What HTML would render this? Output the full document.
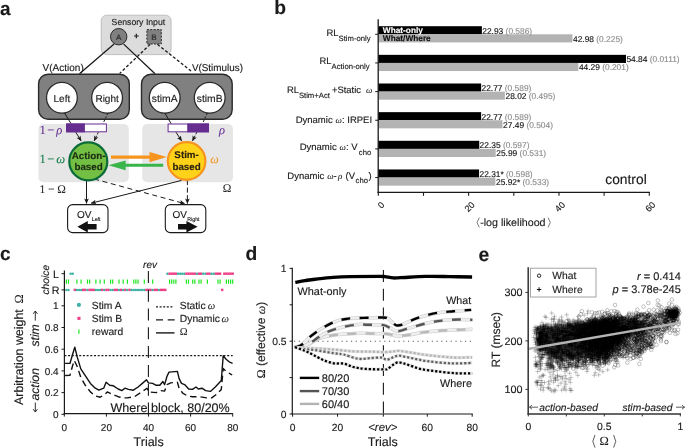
<!DOCTYPE html>
<html><head><meta charset="utf-8"><title>figure</title>
<style>html,body{margin:0;padding:0;background:#fff;}body{width:685px;height:448px;overflow:hidden;font-family:"Liberation Sans",sans-serif;}svg{display:block;will-change:transform;}text{font-family:"Liberation Sans",sans-serif;text-rendering:geometricPrecision;stroke-width:0.14px;}.se{font-family:"Liberation Serif",serif;}</style>
</head><body>
<svg width="685" height="448" viewBox="0 0 685 448">
<rect x="0" y="0" width="685" height="448" fill="#fff"/>
<defs>
<marker id="ah" viewBox="0 0 10 10" refX="9" refY="5" markerWidth="5.5" markerHeight="5.5" orient="auto" markerUnits="userSpaceOnUse"><path d="M0,0.8 L10,5 L0,9.2 L2.5,5 Z" fill="#1a1a1a"/></marker>
</defs>
<g id="pa">
<text x="0.0" y="14.6" font-size="19" font-weight="bold" stroke-width="0.05" fill="#1a1a1a" stroke="#1a1a1a">a</text>
<rect x="101.2" y="15.2" width="69.9" height="39.4" rx="5.5" fill="#dcdcdc" stroke="#b4b4b4" stroke-width="0.8"/>
<text x="138.4" y="24.9" font-size="8.7" text-anchor="middle" fill="#1a1a1a" stroke="#1a1a1a">Sensory Input</text>
<g stroke="#1a1a1a" stroke-width="1.3" fill="none">
<path d="M114.1,44.1 L79.5,73.8"/>
<path d="M123.7,44.1 L155,73.8"/>
<path d="M150.2,44.3 L119.7,73.4" stroke-dasharray="3,2"/>
<path d="M157.4,44.3 L192.6,72.2" stroke-dasharray="3,2"/>
</g>
<circle cx="118.7" cy="36.7" r="8.2" fill="#808080" stroke="#2a2a2a" stroke-width="1"/>
<text x="118.7" y="39.6" font-size="8" text-anchor="middle" fill="#2a2a2a" stroke="#2a2a2a">A</text>
<text x="136.3" y="38.6" font-size="9" text-anchor="middle" font-weight="bold" stroke-width="0.05" fill="#1a1a1a" stroke="#1a1a1a">+</text>
<rect x="146.9" y="29.6" width="14.4" height="14.4" fill="#808080" stroke="#2a2a2a" stroke-width="1" stroke-dasharray="2,1.4"/>
<text x="154" y="39.7" font-size="8" text-anchor="middle" fill="#2a2a2a" stroke="#2a2a2a">B</text>
<text x="42.6" y="70.9" font-size="10" fill="#1a1a1a" stroke="#1a1a1a">V(Action)</text>
<text x="191.9" y="70.9" font-size="9.9" fill="#1a1a1a" stroke="#1a1a1a">V(Stimulus)</text>
<rect x="38.6" y="74.2" width="90.7" height="45" rx="9.5" fill="#808080" stroke="#2a2a2a" stroke-width="1.4"/>
<rect x="141.5" y="74.2" width="90.7" height="45" rx="9.5" fill="#808080" stroke="#2a2a2a" stroke-width="1.4"/>
<circle cx="61.9" cy="97.7" r="15.4" fill="#fff" stroke="#2a2a2a" stroke-width="1.3"/>
<text x="61.9" y="102.4" font-size="10" text-anchor="middle" fill="#1a1a1a" stroke="#1a1a1a">Left</text>
<circle cx="107.1" cy="97.7" r="15.4" fill="#fff" stroke="#2a2a2a" stroke-width="1.3"/>
<text x="107.1" y="102.4" font-size="10" text-anchor="middle" fill="#1a1a1a" stroke="#1a1a1a">Right</text>
<circle cx="164.7" cy="97.7" r="15.4" fill="#fff" stroke="#2a2a2a" stroke-width="1.3"/>
<text x="164.7" y="102.4" font-size="10.3" text-anchor="middle" fill="#1a1a1a" stroke="#1a1a1a">stimA</text>
<circle cx="209.7" cy="97.7" r="15.4" fill="#fff" stroke="#2a2a2a" stroke-width="1.3"/>
<text x="209.7" y="102.4" font-size="10.3" text-anchor="middle" fill="#1a1a1a" stroke="#1a1a1a">stimB</text>
<rect x="38.4" y="124.1" width="90.4" height="58.1" rx="5" fill="#e6e6e6"/>
<rect x="142.2" y="124.1" width="90.8" height="58.1" rx="5" fill="#e6e6e6"/>
<g stroke="#1a1a1a" stroke-width="1" fill="none">
<path d="M64.5,113 L71,123.6"/>
<path d="M107.9,113 L103,123.6" stroke-dasharray="2.2,1.6"/>
<path d="M164.8,113 L171.1,123.6"/>
<path d="M207.3,113 L202.5,123.6" stroke-dasharray="2.2,1.6"/>
</g>
<rect x="66.6" y="124" width="39.8" height="7.8" fill="#fff" stroke="#662d91" stroke-width="1"/>
<rect x="66.1" y="123.5" width="18.8" height="8.8" fill="#662d91"/>
<rect x="168.1" y="124" width="40.4" height="7.8" fill="#fff" stroke="#662d91" stroke-width="1"/>
<rect x="187.2" y="123.5" width="21.8" height="8.8" fill="#662d91"/>
<g stroke="#1a1a1a" stroke-width="1" fill="none">
<path d="M75.8,132.3 L81.1,140.8" marker-end="url(#ah)"/>
<path d="M98.3,132.3 L94.2,140.8" stroke-dasharray="2.2,1.6" marker-end="url(#ah)"/>
<path d="M176,132.3 L181.6,140.8" marker-end="url(#ah)"/>
<path d="M196.8,132.3 L192.5,140.8" stroke-dasharray="2.2,1.6" marker-end="url(#ah)"/>
</g>
<g stroke="#1a1a1a" stroke-width="1" fill="none">
<path d="M86.5,180 L86.5,203.4" marker-end="url(#ah)"/>
<path d="M187.4,180 L187.4,203.4" stroke-dasharray="5,2.6" marker-end="url(#ah)"/>
<path d="M181.6,180.4 L91.2,203.2" marker-end="url(#ah)"/>
<path d="M94.2,179 L184.6,203.6" stroke-dasharray="5,3.6" marker-end="url(#ah)"/>
</g>
<path d="M111,157.1 L152,157.1" stroke="#f7941d" stroke-width="3.2" fill="none"/>
<path d="M149.5,151.9 L166.8,157.1 L149.5,162.3 Z" fill="#f7941d"/>
<path d="M163.2,165.3 L123,165.3" stroke="#39b54a" stroke-width="3" fill="none"/>
<path d="M125.6,160.4 L108.4,165.3 L125.6,170.2 Z" fill="#39b54a"/>
<circle cx="88.3" cy="161.4" r="19" fill="#72bf44" stroke="#0b6b38" stroke-width="2.2"/>
<text x="88.6" y="159" font-size="9.8" text-anchor="middle" font-weight="bold" stroke-width="0.05" fill="#1c2a12" stroke="#1c2a12">Action-</text>
<text x="88.6" y="170.2" font-size="9.8" text-anchor="middle" font-weight="bold" stroke-width="0.05" fill="#1c2a12" stroke="#1c2a12">based</text>
<circle cx="186.6" cy="161" r="18.8" fill="#ffd21a" stroke="#f7941d" stroke-width="2.2"/>
<text x="186.6" y="158.1" font-size="9.8" text-anchor="middle" font-weight="bold" stroke-width="0.05" fill="#2a2210" stroke="#2a2210">Stim-</text>
<text x="186.6" y="170.2" font-size="9.8" text-anchor="middle" font-weight="bold" stroke-width="0.05" fill="#2a2210" stroke="#2a2210">based</text>
<text x="39.6" y="134" font-size="12.6" fill="#662d91" stroke="#662d91" style='font-family:"Liberation Serif", serif;stroke-width:0.05px'>1<tspan dx="1.3">−</tspan><tspan dx="1.9" font-style="italic">ρ</tspan></text>
<text x="39.6" y="162.6" font-size="12.6" fill="#0b7a45" stroke="#0b7a45" style='font-family:"Liberation Serif", serif;stroke-width:0.05px'>1<tspan dx="1.3">−</tspan><tspan dx="1.9" font-style="italic">ω</tspan></text>
<text x="39.6" y="192.7" font-size="11.6" fill="#2a2a2a" stroke="#2a2a2a" style='font-family:"Liberation Serif", serif;stroke-width:0.05px'>1<tspan dx="2.6">−</tspan><tspan dx="2.6">Ω</tspan></text>
<text x="219" y="134" font-size="12.5" font-style="italic" fill="#662d91" stroke="#662d91" style='font-family:"Liberation Serif", serif;stroke-width:0.05px'>ρ</text>
<text x="210.3" y="163" font-size="12" font-style="italic" fill="#f7941d" stroke="#f7941d" style='font-family:"Liberation Serif", serif;stroke-width:0.05px'>ω</text>
<text x="222.8" y="192.3" font-size="11.6" fill="#2a2a2a" stroke="#2a2a2a" style='font-family:"Liberation Serif", serif;stroke-width:0.05px'>Ω</text>
<rect x="67.6" y="204.6" width="40.4" height="28" rx="5" fill="#fff" stroke="#1a1a1a" stroke-width="1.1"/>
<rect x="165.3" y="204.6" width="40.5" height="28" rx="5" fill="#fff" stroke="#1a1a1a" stroke-width="1.1"/>
<text x="77" y="217.6" font-size="10" fill="#1a1a1a" stroke="#1a1a1a">OV</text>
<text x="91.7" y="220.8" font-size="5.3" fill="#1a1a1a" stroke="#1a1a1a">Left</text>
<text x="172.4" y="217.6" font-size="10" fill="#1a1a1a" stroke="#1a1a1a">OV</text>
<text x="187.2" y="220.8" font-size="5.3" fill="#1a1a1a" stroke="#1a1a1a">Right</text>
<path d="M77.4,226.7 L87.8,221 L87.8,224 L96.6,224 L96.6,229.5 L87.8,229.5 L87.8,232.4 Z" fill="#111"/>
<path d="M197.6,226.7 L186.4,221 L186.4,224 L178,224 L178,229.5 L186.4,229.5 L186.4,232.4 Z" fill="#111"/>
</g>
<g id="pb">
<text x="274.2" y="13.7" font-size="19.3" font-weight="bold" stroke-width="0.05" fill="#1a1a1a" stroke="#1a1a1a">b</text>
<rect x="378.3" y="26.20" width="103.57" height="8.1" fill="#000"/>
<rect x="378.3" y="34.30" width="194.13" height="8.1" fill="#b3b3b3"/>
<text x="482.3" y="33.7" font-size="8.4" fill="#111" stroke="#111">22.93 <tspan fill="#8c8c8c" stroke="#8c8c8c">(0.586)</tspan></text>
<text x="573.0" y="41.8" font-size="8.4" fill="#111" stroke="#111">42.98 <tspan fill="#8c8c8c" stroke="#8c8c8c">(0.225)</tspan></text>
<path d="M375.2,34.30 H378.3" stroke="#1a1a1a" stroke-width="1"/>
<rect x="378.3" y="54.85" width="247.70" height="8.1" fill="#000"/>
<rect x="378.3" y="62.95" width="200.04" height="8.1" fill="#b3b3b3"/>
<text x="626.4" y="62.3" font-size="8.4" fill="#111" stroke="#111">54.84 <tspan fill="#8c8c8c" stroke="#8c8c8c">(0.0111)</tspan></text>
<text x="578.9" y="70.4" font-size="8.4" fill="#111" stroke="#111">44.29 <tspan fill="#8c8c8c" stroke="#8c8c8c">(0.201)</tspan></text>
<path d="M375.2,62.95 H378.3" stroke="#1a1a1a" stroke-width="1"/>
<rect x="378.3" y="83.50" width="102.85" height="8.1" fill="#000"/>
<rect x="378.3" y="91.60" width="126.56" height="8.1" fill="#b3b3b3"/>
<text x="481.5" y="91.0" font-size="8.4" fill="#111" stroke="#111">22.77 <tspan fill="#8c8c8c" stroke="#8c8c8c">(0.589)</tspan></text>
<text x="505.5" y="99.1" font-size="8.4" fill="#111" stroke="#111">28.02 <tspan fill="#8c8c8c" stroke="#8c8c8c">(0.495)</tspan></text>
<path d="M375.2,91.60 H378.3" stroke="#1a1a1a" stroke-width="1"/>
<rect x="378.3" y="112.15" width="102.85" height="8.1" fill="#000"/>
<rect x="378.3" y="120.25" width="124.16" height="8.1" fill="#b3b3b3"/>
<text x="481.5" y="119.6" font-size="8.4" fill="#111" stroke="#111">22.77 <tspan fill="#8c8c8c" stroke="#8c8c8c">(0.589)</tspan></text>
<text x="503.1" y="127.7" font-size="8.4" fill="#111" stroke="#111">27.49 <tspan fill="#8c8c8c" stroke="#8c8c8c">(0.504)</tspan></text>
<path d="M375.2,120.25 H378.3" stroke="#1a1a1a" stroke-width="1"/>
<rect x="378.3" y="140.80" width="100.95" height="8.1" fill="#000"/>
<rect x="378.3" y="148.90" width="117.39" height="8.1" fill="#b3b3b3"/>
<text x="479.6" y="148.3" font-size="8.4" fill="#111" stroke="#111">22.35 <tspan fill="#8c8c8c" stroke="#8c8c8c">(0.597)</tspan></text>
<text x="496.3" y="156.4" font-size="8.4" fill="#111" stroke="#111">25.99 <tspan fill="#8c8c8c" stroke="#8c8c8c">(0.531)</tspan></text>
<path d="M375.2,148.90 H378.3" stroke="#1a1a1a" stroke-width="1"/>
<rect x="378.3" y="169.45" width="100.77" height="8.1" fill="#000"/>
<rect x="378.3" y="177.55" width="117.07" height="8.1" fill="#b3b3b3"/>
<text x="479.5" y="177.0" font-size="8.4" fill="#111" stroke="#111">22.31* <tspan fill="#8c8c8c" stroke="#8c8c8c">(0.598)</tspan></text>
<text x="496.0" y="185.1" font-size="8.4" fill="#111" stroke="#111">25.92* <tspan fill="#8c8c8c" stroke="#8c8c8c">(0.533)</tspan></text>
<path d="M375.2,177.55 H378.3" stroke="#1a1a1a" stroke-width="1"/>
<text x="382.8" y="33" font-size="8.3" font-weight="bold" stroke-width="0.05" fill="#fff" stroke="#fff">What-only</text>
<text x="382.8" y="40.9" font-size="8.3" font-weight="bold" stroke-width="0.05" fill="#111" stroke="#111">What/Where</text>
<path d="M378.2,19.3 V192.9" stroke="#1a1a1a" stroke-width="1.3" fill="none"/>
<path d="M377.6,192.3 H649.9" stroke="#1a1a1a" stroke-width="1.3" fill="none"/>
<path d="M378.3,192.3 V195.8" stroke="#1a1a1a" stroke-width="1.1"/>
<path d="M423.5,192.3 V195.8" stroke="#1a1a1a" stroke-width="1.1"/>
<path d="M468.6,192.3 V195.8" stroke="#1a1a1a" stroke-width="1.1"/>
<path d="M513.8,192.3 V195.8" stroke="#1a1a1a" stroke-width="1.1"/>
<path d="M559.0,192.3 V195.8" stroke="#1a1a1a" stroke-width="1.1"/>
<path d="M604.1,192.3 V195.8" stroke="#1a1a1a" stroke-width="1.1"/>
<path d="M649.3,192.3 V195.8" stroke="#1a1a1a" stroke-width="1.1"/>
<text x="0" y="0" font-size="9" text-anchor="end" fill="#1a1a1a" stroke="#1a1a1a" transform="translate(385.0,205.5) rotate(-45)">0</text>
<text x="0" y="0" font-size="9" text-anchor="end" fill="#1a1a1a" stroke="#1a1a1a" transform="translate(475.3,205.5) rotate(-45)">20</text>
<text x="0" y="0" font-size="9" text-anchor="end" fill="#1a1a1a" stroke="#1a1a1a" transform="translate(565.7,205.5) rotate(-45)">40</text>
<text x="0" y="0" font-size="9" text-anchor="end" fill="#1a1a1a" stroke="#1a1a1a" transform="translate(656.0,205.5) rotate(-45)">60</text>
<text x="480.2" y="225.6" font-size="10.7" fill="#1a1a1a" stroke="#1a1a1a">-log likelihood</text>
<path d="M479.3,217.6 L477,222.5 L479.3,227.4 M548,217.6 L550.3,222.5 L548,227.4" stroke="#444" stroke-width="0.7" fill="none"/>
<text x="605.3" y="184.1" font-size="13.8" fill="#1a1a1a" stroke="#1a1a1a">control</text>
<text x="326.5" y="35.6" font-size="9.4" fill="#1a1a1a" stroke="#1a1a1a">RL</text>
<text x="338.6" y="40.6" font-size="7.7" fill="#1a1a1a" stroke="#1a1a1a">Stim-only</text>
<text x="319.5" y="64.2" font-size="9.4" fill="#1a1a1a" stroke="#1a1a1a">RL</text>
<text x="331.6" y="69.2" font-size="7.7" fill="#1a1a1a" stroke="#1a1a1a">Action-only</text>
<text x="286.9" y="92.8" font-size="9.4" fill="#1a1a1a" stroke="#1a1a1a">RL</text>
<text x="298.9" y="97.6" font-size="7.7" fill="#1a1a1a" stroke="#1a1a1a">Stim+Act</text>
<text x="332" y="92.8" font-size="9.4" fill="#1a1a1a" stroke="#1a1a1a">+Static</text>
<text x="366" y="92.8" font-size="9" font-style="italic" fill="#1a1a1a" stroke="#1a1a1a" style='font-family:"Liberation Serif", serif;stroke-width:0.05px'>ω</text>
<text x="295.7" y="123.3" font-size="9.5" fill="#1a1a1a" stroke="#1a1a1a">Dynamic</text>
<text x="335.6" y="123.3" font-size="9" font-style="italic" fill="#1a1a1a" stroke="#1a1a1a" style='font-family:"Liberation Serif", serif;stroke-width:0.05px'>ω</text>
<text x="342" y="123.3" font-size="9.5" fill="#1a1a1a" stroke="#1a1a1a">: IRPEI</text>
<text x="299.7" y="150.3" font-size="9.5" fill="#1a1a1a" stroke="#1a1a1a">Dynamic</text>
<text x="339.6" y="150.3" font-size="9" font-style="italic" fill="#1a1a1a" stroke="#1a1a1a" style='font-family:"Liberation Serif", serif;stroke-width:0.05px'>ω</text>
<text x="346" y="150.3" font-size="9.5" fill="#1a1a1a" stroke="#1a1a1a">: V</text>
<text x="358.8" y="155.1" font-size="7.7" fill="#1a1a1a" stroke="#1a1a1a">cho</text>
<text x="287.3" y="178.7" font-size="9.5" fill="#1a1a1a" stroke="#1a1a1a">Dynamic</text>
<text x="327.2" y="178.7" font-size="9" font-style="italic" fill="#1a1a1a" stroke="#1a1a1a" style='font-family:"Liberation Serif", serif;stroke-width:0.05px'>ω</text>
<text x="333.5" y="178.7" font-size="9.5" fill="#1a1a1a" stroke="#1a1a1a">-</text>
<text x="338" y="178.7" font-size="9" font-style="italic" fill="#1a1a1a" stroke="#1a1a1a" style='font-family:"Liberation Serif", serif;stroke-width:0.05px'>ρ</text>
<text x="345.5" y="178.7" font-size="9.5" fill="#1a1a1a" stroke="#1a1a1a">(V</text>
<text x="355.6" y="183.4" font-size="7.7" fill="#1a1a1a" stroke="#1a1a1a">cho</text>
<text x="368.6" y="178.7" font-size="9.5" fill="#1a1a1a" stroke="#1a1a1a">)</text>
</g>
<g id="pc">
<text x="0.0" y="259.9" font-size="19" font-weight="bold" stroke-width="0.05" fill="#1a1a1a" stroke="#1a1a1a">c</text>
<circle cx="66.4" cy="289.9" r="1.25" fill="#3fb3a3"/>
<circle cx="68.5" cy="289.9" r="1.25" fill="#3fb3a3"/>
<circle cx="70.6" cy="273.7" r="1.25" fill="#3fb3a3"/>
<circle cx="72.7" cy="273.7" r="1.25" fill="#3fb3a3"/>
<rect x="73.6" y="288.7" width="2.4" height="2.4" fill="#ee3f86"/>
<circle cx="76.9" cy="289.9" r="1.25" fill="#3fb3a3"/>
<circle cx="79.0" cy="289.9" r="1.25" fill="#3fb3a3"/>
<circle cx="81.1" cy="289.9" r="1.25" fill="#3fb3a3"/>
<rect x="82.0" y="288.7" width="2.4" height="2.4" fill="#ee3f86"/>
<rect x="84.1" y="288.7" width="2.4" height="2.4" fill="#ee3f86"/>
<circle cx="87.5" cy="289.9" r="1.25" fill="#3fb3a3"/>
<rect x="88.4" y="288.7" width="2.4" height="2.4" fill="#ee3f86"/>
<rect x="90.5" y="288.7" width="2.4" height="2.4" fill="#ee3f86"/>
<rect x="92.6" y="288.7" width="2.4" height="2.4" fill="#ee3f86"/>
<circle cx="95.9" cy="289.9" r="1.25" fill="#3fb3a3"/>
<circle cx="98.0" cy="289.9" r="1.25" fill="#3fb3a3"/>
<circle cx="100.1" cy="289.9" r="1.25" fill="#3fb3a3"/>
<rect x="101.0" y="288.7" width="2.4" height="2.4" fill="#ee3f86"/>
<circle cx="104.3" cy="289.9" r="1.25" fill="#3fb3a3"/>
<rect x="105.2" y="288.7" width="2.4" height="2.4" fill="#ee3f86"/>
<rect x="107.3" y="288.7" width="2.4" height="2.4" fill="#ee3f86"/>
<circle cx="110.6" cy="289.9" r="1.25" fill="#3fb3a3"/>
<circle cx="112.7" cy="289.9" r="1.25" fill="#3fb3a3"/>
<rect x="113.6" y="288.7" width="2.4" height="2.4" fill="#ee3f86"/>
<rect x="115.7" y="288.7" width="2.4" height="2.4" fill="#ee3f86"/>
<circle cx="119.0" cy="289.9" r="1.25" fill="#3fb3a3"/>
<rect x="119.9" y="288.7" width="2.4" height="2.4" fill="#ee3f86"/>
<circle cx="123.2" cy="289.9" r="1.25" fill="#3fb3a3"/>
<rect x="124.1" y="288.7" width="2.4" height="2.4" fill="#ee3f86"/>
<circle cx="127.4" cy="289.9" r="1.25" fill="#3fb3a3"/>
<rect x="128.4" y="288.7" width="2.4" height="2.4" fill="#ee3f86"/>
<circle cx="131.7" cy="289.9" r="1.25" fill="#3fb3a3"/>
<circle cx="133.8" cy="289.9" r="1.25" fill="#3fb3a3"/>
<circle cx="135.9" cy="289.9" r="1.25" fill="#3fb3a3"/>
<circle cx="138.0" cy="289.9" r="1.25" fill="#3fb3a3"/>
<circle cx="140.1" cy="289.9" r="1.25" fill="#3fb3a3"/>
<circle cx="142.2" cy="289.9" r="1.25" fill="#3fb3a3"/>
<circle cx="144.3" cy="289.9" r="1.25" fill="#3fb3a3"/>
<rect x="145.2" y="288.7" width="2.4" height="2.4" fill="#ee3f86"/>
<rect x="147.3" y="288.7" width="2.4" height="2.4" fill="#ee3f86"/>
<rect x="149.4" y="288.7" width="2.4" height="2.4" fill="#ee3f86"/>
<circle cx="152.7" cy="289.9" r="1.25" fill="#3fb3a3"/>
<rect x="153.6" y="288.7" width="2.4" height="2.4" fill="#ee3f86"/>
<rect x="155.7" y="288.7" width="2.4" height="2.4" fill="#ee3f86"/>
<circle cx="159.0" cy="289.9" r="1.25" fill="#3fb3a3"/>
<rect x="159.9" y="288.7" width="2.4" height="2.4" fill="#ee3f86"/>
<rect x="162.0" y="288.7" width="2.4" height="2.4" fill="#ee3f86"/>
<rect x="164.1" y="288.7" width="2.4" height="2.4" fill="#ee3f86"/>
<circle cx="167.4" cy="273.7" r="1.25" fill="#3fb3a3"/>
<rect x="168.4" y="272.5" width="2.4" height="2.4" fill="#ee3f86"/>
<rect x="170.5" y="272.5" width="2.4" height="2.4" fill="#ee3f86"/>
<rect x="172.6" y="272.5" width="2.4" height="2.4" fill="#ee3f86"/>
<rect x="174.7" y="272.5" width="2.4" height="2.4" fill="#ee3f86"/>
<circle cx="178.0" cy="273.7" r="1.25" fill="#3fb3a3"/>
<circle cx="180.1" cy="273.7" r="1.25" fill="#3fb3a3"/>
<circle cx="182.2" cy="273.7" r="1.25" fill="#3fb3a3"/>
<circle cx="184.3" cy="273.7" r="1.25" fill="#3fb3a3"/>
<rect x="185.2" y="272.5" width="2.4" height="2.4" fill="#ee3f86"/>
<rect x="187.3" y="272.5" width="2.4" height="2.4" fill="#ee3f86"/>
<rect x="189.4" y="272.5" width="2.4" height="2.4" fill="#ee3f86"/>
<rect x="191.5" y="272.5" width="2.4" height="2.4" fill="#ee3f86"/>
<rect x="193.6" y="272.5" width="2.4" height="2.4" fill="#ee3f86"/>
<circle cx="196.9" cy="273.7" r="1.25" fill="#3fb3a3"/>
<rect x="197.8" y="272.5" width="2.4" height="2.4" fill="#ee3f86"/>
<rect x="199.9" y="272.5" width="2.4" height="2.4" fill="#ee3f86"/>
<circle cx="203.2" cy="273.7" r="1.25" fill="#3fb3a3"/>
<circle cx="205.3" cy="273.7" r="1.25" fill="#3fb3a3"/>
<rect x="206.2" y="272.5" width="2.4" height="2.4" fill="#ee3f86"/>
<rect x="208.3" y="272.5" width="2.4" height="2.4" fill="#ee3f86"/>
<circle cx="211.6" cy="273.7" r="1.25" fill="#3fb3a3"/>
<circle cx="213.8" cy="273.7" r="1.25" fill="#3fb3a3"/>
<rect x="214.7" y="272.5" width="2.4" height="2.4" fill="#ee3f86"/>
<rect x="216.8" y="272.5" width="2.4" height="2.4" fill="#ee3f86"/>
<rect x="218.9" y="272.5" width="2.4" height="2.4" fill="#ee3f86"/>
<rect x="221.0" y="288.7" width="2.4" height="2.4" fill="#ee3f86"/>
<rect x="223.1" y="272.5" width="2.4" height="2.4" fill="#ee3f86"/>
<rect x="225.2" y="272.5" width="2.4" height="2.4" fill="#ee3f86"/>
<rect x="227.3" y="272.5" width="2.4" height="2.4" fill="#ee3f86"/>
<rect x="229.4" y="272.5" width="2.4" height="2.4" fill="#ee3f86"/>
<rect x="231.5" y="272.5" width="2.4" height="2.4" fill="#ee3f86"/>
<path d="M66.4,279.6 v4.2M68.5,279.6 v4.2M76.9,279.6 v4.2M81.1,279.6 v4.2M87.5,279.6 v4.2M89.6,279.6 v4.2M95.9,279.6 v4.2M100.1,279.6 v4.2M104.3,279.6 v4.2M110.6,279.6 v4.2M112.7,279.6 v4.2M119.0,279.6 v4.2M123.2,279.6 v4.2M127.4,279.6 v4.2M133.8,279.6 v4.2M135.9,279.6 v4.2M138.0,279.6 v4.2M144.3,279.6 v4.2M152.7,279.6 v4.2M169.6,279.6 v4.2M171.7,279.6 v4.2M173.8,279.6 v4.2M175.9,279.6 v4.2M186.4,279.6 v4.2M188.5,279.6 v4.2M192.7,279.6 v4.2M194.8,279.6 v4.2M199.0,279.6 v4.2M201.1,279.6 v4.2M207.4,279.6 v4.2M218.0,279.6 v4.2M220.1,279.6 v4.2M226.4,279.6 v4.2M228.5,279.6 v4.2M230.6,279.6 v4.2M232.7,279.6 v4.2" stroke="#1ee61e" stroke-width="1.2" fill="none"/>
<path d="M148.4,270.9 V416.6" stroke="#1a1a1a" stroke-width="1.1" stroke-dasharray="12,6.8" fill="none"/>
<text x="150" y="267.8" font-size="10" text-anchor="middle" font-style="italic" fill="#1a1a1a" stroke="#1a1a1a">rev</text>
<path d="M64.4,270.5 V414.3" stroke="#1a1a1a" stroke-width="1.2" fill="none"/>
<path d="M63.8,413.7 H232.9" stroke="#1a1a1a" stroke-width="1.2" fill="none"/>
<path d="M61.5,273.7 H64.4" stroke="#1a1a1a" stroke-width="1"/>
<path d="M61.5,289.9 H64.4" stroke="#1a1a1a" stroke-width="1"/>
<text x="58.9" y="277.6" font-size="10.7" text-anchor="end" fill="#1a1a1a" stroke="#1a1a1a">L</text>
<text x="59.4" y="293.8" font-size="10.7" text-anchor="end" fill="#1a1a1a" stroke="#1a1a1a">R</text>
<path d="M61.5,305.8 H64.4" stroke="#1a1a1a" stroke-width="1"/>
<text x="58.6" y="309.4" font-size="10" text-anchor="end" fill="#1a1a1a" stroke="#1a1a1a">1</text>
<path d="M61.5,327.5 H64.4" stroke="#1a1a1a" stroke-width="1"/>
<text x="58.6" y="331.1" font-size="10" text-anchor="end" fill="#1a1a1a" stroke="#1a1a1a">0.8</text>
<path d="M61.5,349.2 H64.4" stroke="#1a1a1a" stroke-width="1"/>
<text x="58.6" y="352.8" font-size="10" text-anchor="end" fill="#1a1a1a" stroke="#1a1a1a">0.6</text>
<path d="M61.5,370.9 H64.4" stroke="#1a1a1a" stroke-width="1"/>
<text x="58.6" y="374.5" font-size="10" text-anchor="end" fill="#1a1a1a" stroke="#1a1a1a">0.4</text>
<path d="M61.5,392.6 H64.4" stroke="#1a1a1a" stroke-width="1"/>
<text x="58.6" y="396.2" font-size="10" text-anchor="end" fill="#1a1a1a" stroke="#1a1a1a">0.2</text>
<path d="M61.5,414.3 H64.4" stroke="#1a1a1a" stroke-width="1"/>
<text x="58.6" y="417.9" font-size="10" text-anchor="end" fill="#1a1a1a" stroke="#1a1a1a">0</text>
<path d="M64.3,413.7 V416.6" stroke="#1a1a1a" stroke-width="1"/>
<text x="64.3" y="431.2" font-size="10" text-anchor="middle" fill="#1a1a1a" stroke="#1a1a1a">0</text>
<path d="M106.4,413.7 V416.6" stroke="#1a1a1a" stroke-width="1"/>
<text x="106.4" y="431.2" font-size="10" text-anchor="middle" fill="#1a1a1a" stroke="#1a1a1a">20</text>
<path d="M148.5,413.7 V416.6" stroke="#1a1a1a" stroke-width="1"/>
<text x="148.5" y="431.2" font-size="10" text-anchor="middle" fill="#1a1a1a" stroke="#1a1a1a">40</text>
<path d="M190.6,413.7 V416.6" stroke="#1a1a1a" stroke-width="1"/>
<text x="190.6" y="431.2" font-size="10" text-anchor="middle" fill="#1a1a1a" stroke="#1a1a1a">60</text>
<path d="M232.7,413.7 V416.6" stroke="#1a1a1a" stroke-width="1"/>
<text x="232.7" y="431.2" font-size="10" text-anchor="middle" fill="#1a1a1a" stroke="#1a1a1a">80</text>
<text x="148.6" y="445.9" font-size="12.5" text-anchor="middle" fill="#1a1a1a" stroke="#1a1a1a">Trials</text>
<text x="0" y="0" font-size="10.3" text-anchor="middle" font-style="italic" fill="#1a1a1a" stroke="#1a1a1a" transform="translate(48.6,279.7) rotate(-90)">choice</text>
<text x="0" y="0" font-size="12.4" fill="#1a1a1a" stroke="#1a1a1a" transform="translate(23,405) rotate(-90)">Arbitration weight</text>
<text x="0" y="0" font-size="12.4" fill="#1a1a1a" stroke="#1a1a1a" style='font-family:"Liberation Serif", serif;stroke-width:0.05px' transform="translate(23,303.6) rotate(-90)">Ω</text>
<text x="0" y="0" font-size="12.2" font-style="italic" fill="#1a1a1a" stroke="#1a1a1a" transform="translate(38.6,400.6) rotate(-90)">action</text>
<text x="0" y="0" font-size="12.2" font-style="italic" fill="#1a1a1a" stroke="#1a1a1a" transform="translate(38.6,346.6) rotate(-90)">stim</text>
<path d="M35.3,402.6 V411.8 M33.2,409.2 L35.3,412 L37.4,409.2" stroke="#1a1a1a" stroke-width="0.9" fill="none"/>
<path d="M35.3,320.6 V311.2 M33.2,313.8 L35.3,311 L37.4,313.8" stroke="#1a1a1a" stroke-width="0.9" fill="none"/>
<circle cx="78.9" cy="304.9" r="2.1" fill="#3fb3a3"/>
<rect x="77.4" y="316.8" width="3.1" height="3.1" fill="#ee3f86"/>
<path d="M78.9,329.4 v4.4" stroke="#1ee61e" stroke-width="1.2"/>
<text x="91.8" y="308.8" font-size="10.3" fill="#1a1a1a" stroke="#1a1a1a">Stim A</text>
<text x="91.8" y="321.8" font-size="10.3" fill="#1a1a1a" stroke="#1a1a1a">Stim B</text>
<text x="91.8" y="334.9" font-size="10.3" fill="#1a1a1a" stroke="#1a1a1a">reward</text>
<path d="M156,306.9 H174" stroke="#1a1a1a" stroke-width="1.4" stroke-dasharray="2,1.6"/>
<path d="M156,319.9 H175" stroke="#1a1a1a" stroke-width="1.4" stroke-dasharray="7,4.7"/>
<path d="M156,332.9 H174.5" stroke="#1a1a1a" stroke-width="1.4"/>
<text x="179.8" y="308.9" font-size="10.3" fill="#1a1a1a" stroke="#1a1a1a">Static</text>
<text x="207.8" y="308.9" font-size="10.5" font-style="italic" fill="#1a1a1a" stroke="#1a1a1a" style='font-family:"Liberation Serif", serif;stroke-width:0.05px'>ω</text>
<text x="179.8" y="322" font-size="10.3" fill="#1a1a1a" stroke="#1a1a1a">Dynamic</text>
<text x="221.6" y="322" font-size="10.5" font-style="italic" fill="#1a1a1a" stroke="#1a1a1a" style='font-family:"Liberation Serif", serif;stroke-width:0.05px'>ω</text>
<text x="179.8" y="335" font-size="10.5" fill="#1a1a1a" stroke="#1a1a1a" style='font-family:"Liberation Serif", serif;stroke-width:0.05px'>Ω</text>
<path d="M64.4,355.7 H232.7" stroke="#1a1a1a" stroke-width="1.3" stroke-dasharray="2,1.7" fill="none"/>
<path d="M65.1,363.4 L70,363.4 L72.7,354 L74.8,347.2 L77.2,356.9 L80.8,368.9 L85.6,376.2 L90.4,383.4 L95.3,388.2 L98.9,390.2 L103.7,388.2 L106.1,382.2 L109.7,385.3 L113.4,385.8 L118.2,389 L121.8,390.6 L124.9,388.2 L128.4,389.4 L133.3,390.2 L138.1,387 L142.9,382.9 L146.5,379.8 L148.5,382.9 L152.6,383.4 L156.2,385.3 L159.8,385.3 L162.9,381.5 L164.6,384.6 L167,376.2 L169,372.1 L177.4,371.4 L179.1,378.6 L181.5,383.4 L184.6,384.6 L188.7,389 L192.4,389.4 L196,387 L198.4,389 L202,388.2 L205.6,390.6 L210.4,391.4 L215.3,387 L221.3,380.5 L223.2,355.7 L226.1,359.3 L229.7,362.2 L232.6,363.4" stroke="#111" stroke-width="1.4" fill="none" stroke-linejoin="round"/>
<path d="M65.1,375.5 L70,375.2 L72.5,366 L74.3,360.5 L77.2,366.5 L80.8,377.4 L85.6,385.8 L90.4,391.9 L95.3,396 L100.1,397.2 L104.9,394.3 L107.3,391.9 L112.2,394.3 L118.2,396.7 L123,397.9 L127.2,397.9 L134.5,396.7 L141.7,391.9 L147,388.2 L148.5,391.9 L156.2,392.6 L161,390.6 L164.6,391.1 L167,384.6 L170.7,382.9 L177.4,382.2 L179.1,388.2 L182.7,393.1 L187.5,396 L192.4,396.7 L199.6,396.7 L206.8,397.9 L211.7,397.9 L216.5,394.3 L221.3,389.4 L223.2,368.5 L226.1,371.4 L232.2,375" stroke="#111" stroke-width="1.4" fill="none" stroke-dasharray="6.5,4" stroke-linejoin="round"/>
<text x="110.5" y="411.9" font-size="12.55" fill="#1a1a1a" stroke="#1a1a1a">Where block, 80/20%</text>
</g>
<g id="pd">
<text x="245.5" y="259.8" font-size="19.3" font-weight="bold" stroke-width="0.05" fill="#1a1a1a" stroke="#1a1a1a">d</text>
<path d="M294,341.2 H472.6" stroke="#505050" stroke-width="1.1" stroke-dasharray="1.1,3.65" fill="none"/>
<path d="M383.4,270 V416.6" stroke="#1a1a1a" stroke-width="1.1" stroke-dasharray="12,6.8" fill="none"/>
<path d="M295.3,282.4C296.9,282.1 301.7,281.1 305.0,280.6C308.3,280.1 310.4,279.7 315.0,279.2C319.6,278.7 327.1,277.8 332.9,277.4C338.7,277.0 342.3,276.8 350.0,276.6C357.7,276.4 373.5,276.4 379.3,276.4C385.1,276.4 382.7,276.4 385.0,276.6C387.3,276.9 390.7,277.7 393.2,277.9C395.7,278.1 394.6,277.9 400.0,277.6C405.4,277.4 417.4,276.6 425.7,276.4C434.0,276.2 442.3,276.5 450.0,276.6C457.7,276.7 468.4,276.9 472.1,277.0" stroke="#000" stroke-width="3.4" fill="none" stroke-linejoin="round"/>
<path d="M294.8,347.2C296.3,347.0 301.5,346.8 304.0,346.2C306.5,345.6 307.9,344.5 310.0,343.4C312.1,342.3 314.6,340.5 316.9,339.4C319.2,338.3 321.6,337.6 324.0,337.0C326.4,336.4 329.0,335.9 331.5,335.5C334.0,335.1 336.4,334.8 338.8,334.5C341.2,334.2 342.5,334.1 346.1,333.9C349.8,333.7 355.8,333.4 360.7,333.3C365.6,333.2 371.5,333.6 375.3,333.6C379.1,333.7 380.9,333.5 383.4,333.6C385.8,333.7 387.6,334.0 390.0,334.4C392.4,334.8 394.7,335.8 397.5,335.9C400.3,336.0 402.1,335.8 406.8,335.2C411.5,334.6 419.7,332.9 425.6,332.1C431.5,331.3 436.5,330.9 442.0,330.5C447.5,330.1 453.3,330.0 458.4,329.8C463.5,329.6 470.1,329.4 472.4,329.3" stroke="#c8c8c8" stroke-width="3.5" fill="none" stroke-linejoin="round"/>
<path d="M294.8,347.2C296.3,347.0 301.5,346.8 304.0,346.2C306.5,345.6 307.9,344.5 310.0,343.4C312.1,342.3 314.6,340.5 316.9,339.4C319.2,338.3 321.6,337.6 324.0,337.0C326.4,336.4 329.0,335.9 331.5,335.5C334.0,335.1 336.4,334.8 338.8,334.5C341.2,334.2 342.5,334.1 346.1,333.9C349.8,333.7 355.8,333.4 360.7,333.3C365.6,333.2 371.5,333.6 375.3,333.6C379.1,333.7 380.9,333.5 383.4,333.6C385.8,333.7 387.6,334.0 390.0,334.4C392.4,334.8 394.7,335.8 397.5,335.9C400.3,336.0 402.1,335.8 406.8,335.2C411.5,334.6 419.7,332.9 425.6,332.1C431.5,331.3 436.5,330.9 442.0,330.5C447.5,330.1 453.3,330.0 458.4,329.8C463.5,329.6 470.1,329.4 472.4,329.3" stroke="#eeeeee" stroke-width="2.5" fill="none" stroke-linejoin="round"/>
<path d="M294.8,347.2C296.3,347.0 301.5,346.8 304.0,346.2C306.5,345.6 307.9,344.5 310.0,343.4C312.1,342.3 314.6,340.5 316.9,339.4C319.2,338.3 321.6,337.6 324.0,337.0C326.4,336.4 329.0,335.9 331.5,335.5C334.0,335.1 336.4,334.8 338.8,334.5C341.2,334.2 342.5,334.1 346.1,333.9C349.8,333.7 355.8,333.4 360.7,333.3C365.6,333.2 371.5,333.6 375.3,333.6C379.1,333.7 380.9,333.5 383.4,333.6C385.8,333.7 387.6,334.0 390.0,334.4C392.4,334.8 394.7,335.8 397.5,335.9C400.3,336.0 402.1,335.8 406.8,335.2C411.5,334.6 419.7,332.9 425.6,332.1C431.5,331.3 436.5,330.9 442.0,330.5C447.5,330.1 453.3,330.0 458.4,329.8C463.5,329.6 470.1,329.4 472.4,329.3" stroke="#b9b9b9" stroke-width="2.4" fill="none" stroke-dasharray="9,9.3" stroke-linejoin="round"/>
<path d="M294.8,347.2C296.0,347.0 300.0,346.4 302.0,346.0C304.0,345.6 305.2,345.3 307.0,344.6C308.8,343.9 310.7,342.8 312.5,341.6C314.3,340.4 316.1,338.9 318.0,337.6C319.9,336.3 321.9,334.8 324.2,333.6C326.4,332.4 329.1,331.3 331.5,330.4C333.9,329.5 336.4,328.7 338.8,328.0C341.2,327.3 343.6,326.8 346.0,326.3C348.4,325.8 350.9,325.4 353.4,325.1C355.8,324.8 358.3,324.4 360.7,324.3C363.1,324.2 364.2,324.7 368.0,324.8C371.8,324.9 379.7,324.6 383.4,325.1C387.1,325.7 388.0,327.1 390.4,328.1C392.8,329.1 394.8,331.1 397.5,331.2C400.2,331.3 402.1,330.1 406.8,328.8C411.5,327.5 419.7,324.9 425.6,323.5C431.5,322.1 436.5,321.3 442.0,320.6C447.5,319.9 453.3,319.6 458.4,319.5C463.5,319.4 470.1,319.8 472.4,319.9" stroke="#c8c8c8" stroke-width="3.5" fill="none" stroke-linejoin="round"/>
<path d="M294.8,347.2C296.0,347.0 300.0,346.4 302.0,346.0C304.0,345.6 305.2,345.3 307.0,344.6C308.8,343.9 310.7,342.8 312.5,341.6C314.3,340.4 316.1,338.9 318.0,337.6C319.9,336.3 321.9,334.8 324.2,333.6C326.4,332.4 329.1,331.3 331.5,330.4C333.9,329.5 336.4,328.7 338.8,328.0C341.2,327.3 343.6,326.8 346.0,326.3C348.4,325.8 350.9,325.4 353.4,325.1C355.8,324.8 358.3,324.4 360.7,324.3C363.1,324.2 364.2,324.7 368.0,324.8C371.8,324.9 379.7,324.6 383.4,325.1C387.1,325.7 388.0,327.1 390.4,328.1C392.8,329.1 394.8,331.1 397.5,331.2C400.2,331.3 402.1,330.1 406.8,328.8C411.5,327.5 419.7,324.9 425.6,323.5C431.5,322.1 436.5,321.3 442.0,320.6C447.5,319.9 453.3,319.6 458.4,319.5C463.5,319.4 470.1,319.8 472.4,319.9" stroke="#eeeeee" stroke-width="2.5" fill="none" stroke-linejoin="round"/>
<path d="M294.8,347.2C296.0,347.0 300.0,346.4 302.0,346.0C304.0,345.6 305.2,345.3 307.0,344.6C308.8,343.9 310.7,342.8 312.5,341.6C314.3,340.4 316.1,338.9 318.0,337.6C319.9,336.3 321.9,334.8 324.2,333.6C326.4,332.4 329.1,331.3 331.5,330.4C333.9,329.5 336.4,328.7 338.8,328.0C341.2,327.3 343.6,326.8 346.0,326.3C348.4,325.8 350.9,325.4 353.4,325.1C355.8,324.8 358.3,324.4 360.7,324.3C363.1,324.2 364.2,324.7 368.0,324.8C371.8,324.9 379.7,324.6 383.4,325.1C387.1,325.7 388.0,327.1 390.4,328.1C392.8,329.1 394.8,331.1 397.5,331.2C400.2,331.3 402.1,330.1 406.8,328.8C411.5,327.5 419.7,324.9 425.6,323.5C431.5,322.1 436.5,321.3 442.0,320.6C447.5,319.9 453.3,319.6 458.4,319.5C463.5,319.4 470.1,319.8 472.4,319.9" stroke="#555" stroke-width="2.4" fill="none" stroke-dasharray="9,9.3" stroke-linejoin="round"/>
<path d="M294.8,347.2C295.8,346.9 299.2,346.1 300.9,345.2C302.6,344.3 303.6,343.3 305.0,342.0C306.4,340.7 307.6,338.9 309.6,337.2C311.6,335.5 314.5,333.3 316.9,331.6C319.3,329.9 321.8,328.4 324.2,327.0C326.6,325.6 329.1,324.3 331.5,323.2C333.9,322.1 336.4,321.1 338.8,320.4C341.2,319.7 343.6,319.4 346.0,319.0C348.4,318.6 349.7,318.4 353.4,318.2C357.1,318.0 363.0,317.9 368.0,317.8C373.0,317.7 380.0,317.4 383.4,317.5C386.8,317.6 386.7,317.9 388.1,318.6C389.5,319.4 390.6,320.9 392.0,322.0C393.4,323.1 394.6,324.9 396.3,325.3C398.0,325.7 398.5,325.9 402.2,324.6C405.9,323.3 412.6,319.6 418.5,317.6C424.4,315.7 431.4,313.9 437.3,312.9C443.2,311.8 448.1,311.8 453.7,311.3C459.3,310.8 468.3,310.1 471.2,309.9" stroke="#c8c8c8" stroke-width="3.5" fill="none" stroke-linejoin="round"/>
<path d="M294.8,347.2C295.8,346.9 299.2,346.1 300.9,345.2C302.6,344.3 303.6,343.3 305.0,342.0C306.4,340.7 307.6,338.9 309.6,337.2C311.6,335.5 314.5,333.3 316.9,331.6C319.3,329.9 321.8,328.4 324.2,327.0C326.6,325.6 329.1,324.3 331.5,323.2C333.9,322.1 336.4,321.1 338.8,320.4C341.2,319.7 343.6,319.4 346.0,319.0C348.4,318.6 349.7,318.4 353.4,318.2C357.1,318.0 363.0,317.9 368.0,317.8C373.0,317.7 380.0,317.4 383.4,317.5C386.8,317.6 386.7,317.9 388.1,318.6C389.5,319.4 390.6,320.9 392.0,322.0C393.4,323.1 394.6,324.9 396.3,325.3C398.0,325.7 398.5,325.9 402.2,324.6C405.9,323.3 412.6,319.6 418.5,317.6C424.4,315.7 431.4,313.9 437.3,312.9C443.2,311.8 448.1,311.8 453.7,311.3C459.3,310.8 468.3,310.1 471.2,309.9" stroke="#eeeeee" stroke-width="2.5" fill="none" stroke-linejoin="round"/>
<path d="M294.8,347.2C295.8,346.9 299.2,346.1 300.9,345.2C302.6,344.3 303.6,343.3 305.0,342.0C306.4,340.7 307.6,338.9 309.6,337.2C311.6,335.5 314.5,333.3 316.9,331.6C319.3,329.9 321.8,328.4 324.2,327.0C326.6,325.6 329.1,324.3 331.5,323.2C333.9,322.1 336.4,321.1 338.8,320.4C341.2,319.7 343.6,319.4 346.0,319.0C348.4,318.6 349.7,318.4 353.4,318.2C357.1,318.0 363.0,317.9 368.0,317.8C373.0,317.7 380.0,317.4 383.4,317.5C386.8,317.6 386.7,317.9 388.1,318.6C389.5,319.4 390.6,320.9 392.0,322.0C393.4,323.1 394.6,324.9 396.3,325.3C398.0,325.7 398.5,325.9 402.2,324.6C405.9,323.3 412.6,319.6 418.5,317.6C424.4,315.7 431.4,313.9 437.3,312.9C443.2,311.8 448.1,311.8 453.7,311.3C459.3,310.8 468.3,310.1 471.2,309.9" stroke="#000" stroke-width="2.4" fill="none" stroke-dasharray="9,9.3" stroke-linejoin="round"/>
<path d="M295.0,347.2C296.7,347.3 301.8,347.8 305.1,348.0C308.4,348.2 310.0,348.1 314.8,348.4C319.6,348.7 327.7,349.1 334.1,349.6C340.5,350.1 347.4,351.0 353.4,351.3C359.4,351.6 365.1,351.5 370.2,351.6C375.3,351.7 380.5,352.1 384.1,352.1C387.7,352.1 389.6,351.8 392.0,351.6C394.4,351.4 395.9,350.8 398.6,350.9C401.3,351.0 403.4,351.4 408.2,352.1C413.0,352.8 420.2,354.3 427.5,355.2C434.8,356.1 444.2,357.0 451.7,357.4C459.1,357.8 468.8,357.4 472.2,357.4" stroke="#e3e3e3" stroke-width="3.2" fill="none" stroke-linejoin="round"/>
<path d="M295.0,347.2C296.7,347.3 301.8,347.8 305.1,348.0C308.4,348.2 310.0,348.1 314.8,348.4C319.6,348.7 327.7,349.1 334.1,349.6C340.5,350.1 347.4,351.0 353.4,351.3C359.4,351.6 365.1,351.5 370.2,351.6C375.3,351.7 380.5,352.1 384.1,352.1C387.7,352.1 389.6,351.8 392.0,351.6C394.4,351.4 395.9,350.8 398.6,350.9C401.3,351.0 403.4,351.4 408.2,352.1C413.0,352.8 420.2,354.3 427.5,355.2C434.8,356.1 444.2,357.0 451.7,357.4C459.1,357.8 468.8,357.4 472.2,357.4" stroke="#b4b4b4" stroke-width="2.3" fill="none" stroke-dasharray="2.2,1.9" stroke-linejoin="round"/>
<path d="M295.0,347.2C296.7,347.5 301.8,348.7 305.1,349.2C308.4,349.7 310.0,349.4 314.8,350.1C319.6,350.8 329.3,352.6 334.1,353.3C338.9,354.0 339.7,353.6 343.7,354.5C347.7,355.4 353.8,358.2 358.2,358.8C362.6,359.4 366.3,358.3 370.2,358.1C374.1,357.9 379.0,357.3 381.7,357.6C384.4,357.9 384.8,359.8 386.5,359.8C388.2,359.8 390.0,358.5 392.0,357.8C394.0,357.1 395.9,355.8 398.6,355.7C401.3,355.6 403.4,356.5 408.2,357.4C413.0,358.3 420.2,360.2 427.5,361.2C434.8,362.2 444.2,363.1 451.7,363.4C459.1,363.7 468.8,363.0 472.2,362.9" stroke="#e3e3e3" stroke-width="3.2" fill="none" stroke-linejoin="round"/>
<path d="M295.0,347.2C296.7,347.5 301.8,348.7 305.1,349.2C308.4,349.7 310.0,349.4 314.8,350.1C319.6,350.8 329.3,352.6 334.1,353.3C338.9,354.0 339.7,353.6 343.7,354.5C347.7,355.4 353.8,358.2 358.2,358.8C362.6,359.4 366.3,358.3 370.2,358.1C374.1,357.9 379.0,357.3 381.7,357.6C384.4,357.9 384.8,359.8 386.5,359.8C388.2,359.8 390.0,358.5 392.0,357.8C394.0,357.1 395.9,355.8 398.6,355.7C401.3,355.6 403.4,356.5 408.2,357.4C413.0,358.3 420.2,360.2 427.5,361.2C434.8,362.2 444.2,363.1 451.7,363.4C459.1,363.7 468.8,363.0 472.2,362.9" stroke="#606060" stroke-width="2.3" fill="none" stroke-dasharray="2.2,1.9" stroke-linejoin="round"/>
<path d="M295.0,347.2C296.7,347.8 301.8,349.5 305.1,350.9C308.4,352.3 311.6,354.1 314.8,355.7C318.0,357.3 321.2,359.2 324.4,360.5C327.6,361.8 330.9,362.9 334.1,363.4C337.3,363.9 340.5,363.0 343.7,363.6C346.9,364.2 349.8,366.1 353.4,367.0C357.0,367.9 360.3,368.5 365.4,368.9C370.5,369.3 380.4,369.4 384.1,369.4C387.8,369.4 386.4,369.5 387.7,368.9C389.0,368.3 390.4,366.7 392.0,365.6C393.6,364.5 395.7,362.8 397.4,362.4C399.1,362.0 400.2,362.6 402.0,363.0C403.8,363.4 405.1,363.8 408.2,364.8C411.2,365.8 415.5,367.8 420.3,368.9C425.1,370.0 431.2,370.7 437.2,371.4C443.2,372.1 450.7,373.0 456.5,373.3C462.3,373.6 469.6,373.3 472.2,373.3" stroke="#e3e3e3" stroke-width="3.2" fill="none" stroke-linejoin="round"/>
<path d="M295.0,347.2C296.7,347.8 301.8,349.5 305.1,350.9C308.4,352.3 311.6,354.1 314.8,355.7C318.0,357.3 321.2,359.2 324.4,360.5C327.6,361.8 330.9,362.9 334.1,363.4C337.3,363.9 340.5,363.0 343.7,363.6C346.9,364.2 349.8,366.1 353.4,367.0C357.0,367.9 360.3,368.5 365.4,368.9C370.5,369.3 380.4,369.4 384.1,369.4C387.8,369.4 386.4,369.5 387.7,368.9C389.0,368.3 390.4,366.7 392.0,365.6C393.6,364.5 395.7,362.8 397.4,362.4C399.1,362.0 400.2,362.6 402.0,363.0C403.8,363.4 405.1,363.8 408.2,364.8C411.2,365.8 415.5,367.8 420.3,368.9C425.1,370.0 431.2,370.7 437.2,371.4C443.2,372.1 450.7,373.0 456.5,373.3C462.3,373.6 469.6,373.3 472.2,373.3" stroke="#000" stroke-width="2.3" fill="none" stroke-dasharray="2.2,1.9" stroke-linejoin="round"/>
<path d="M292.3,267.8 V414.6" stroke="#1a1a1a" stroke-width="1.2" fill="none"/>
<path d="M291.7,414 H472.8" stroke="#1a1a1a" stroke-width="1.2" fill="none"/>
<path d="M289.6,414.0 H292.3" stroke="#1a1a1a" stroke-width="1"/>
<path d="M289.6,377.6 H292.3" stroke="#1a1a1a" stroke-width="1"/>
<path d="M289.6,341.2 H292.3" stroke="#1a1a1a" stroke-width="1"/>
<path d="M289.6,304.8 H292.3" stroke="#1a1a1a" stroke-width="1"/>
<path d="M289.6,268.4 H292.3" stroke="#1a1a1a" stroke-width="1"/>
<text x="286.6" y="272.1" font-size="10.3" text-anchor="end" fill="#1a1a1a" stroke="#1a1a1a">1</text>
<text x="286.6" y="344.9" font-size="10.3" text-anchor="end" fill="#1a1a1a" stroke="#1a1a1a">0.5</text>
<text x="286.6" y="417.7" font-size="10.3" text-anchor="end" fill="#1a1a1a" stroke="#1a1a1a">0</text>
<text x="292.6" y="430.6" font-size="10.3" text-anchor="middle" fill="#1a1a1a" stroke="#1a1a1a">0</text>
<text x="337.5" y="430.6" font-size="10.3" text-anchor="middle" fill="#1a1a1a" stroke="#1a1a1a">20</text>
<text x="427.3" y="430.6" font-size="10.3" text-anchor="middle" fill="#1a1a1a" stroke="#1a1a1a">60</text>
<text x="472.2" y="430.6" font-size="10.3" text-anchor="middle" fill="#1a1a1a" stroke="#1a1a1a">80</text>
<text x="382.8" y="430.6" font-size="11.4" text-anchor="middle" font-style="italic" fill="#1a1a1a" stroke="#1a1a1a">&lt;rev&gt;</text>
<path d="M292.6,414 V416.7" stroke="#1a1a1a" stroke-width="1"/>
<path d="M337.5,414 V416.7" stroke="#1a1a1a" stroke-width="1"/>
<path d="M383.3,414 V416.7" stroke="#1a1a1a" stroke-width="1"/>
<path d="M427.3,414 V416.7" stroke="#1a1a1a" stroke-width="1"/>
<path d="M472.2,414 V416.7" stroke="#1a1a1a" stroke-width="1"/>
<text x="382.8" y="445.8" font-size="12.5" text-anchor="middle" fill="#1a1a1a" stroke="#1a1a1a">Trials</text>
<text x="0" y="0" font-size="12" text-anchor="middle" fill="#1a1a1a" stroke="#1a1a1a" transform="translate(265.2,340) rotate(-90)"><tspan class="se">Ω</tspan> (effective <tspan class="se" font-style="italic">ω</tspan>)</text>
<text x="297.5" y="295.1" font-size="10.9" fill="#1a1a1a" stroke="#1a1a1a">What-only</text>
<text x="446.2" y="303.5" font-size="10.7" fill="#1a1a1a" stroke="#1a1a1a">What</text>
<text x="440.1" y="387" font-size="10.8" fill="#1a1a1a" stroke="#1a1a1a">Where</text>
<path d="M299.8,377.9 H319.2" stroke="#000" stroke-width="2.4"/>
<text x="321.8" y="381.8" font-size="11" fill="#1a1a1a" stroke="#1a1a1a">80/20</text>
<path d="M299.8,391.1 H319.2" stroke="#555" stroke-width="2.4"/>
<text x="321.8" y="395.0" font-size="11" fill="#1a1a1a" stroke="#1a1a1a">70/30</text>
<path d="M299.8,403.9 H319.2" stroke="#b3b3b3" stroke-width="2.4"/>
<text x="321.8" y="407.8" font-size="11" fill="#1a1a1a" stroke="#1a1a1a">60/40</text>
</g>
<g id="pe">
<text x="478.4" y="261" font-size="19.3" font-weight="bold" stroke-width="0.05" fill="#1a1a1a" stroke="#1a1a1a">e</text>
<defs>
<marker id="mx" viewBox="-3 -3 6 6" refX="0" refY="0" markerWidth="6" markerHeight="6" markerUnits="userSpaceOnUse"><path d="M-2.3,0H2.3M0,-2.3V2.3" stroke="#000" stroke-width="0.23" fill="none"/></marker>
<marker id="mc" viewBox="-3 -3 6 6" refX="0" refY="0" markerWidth="6" markerHeight="6" markerUnits="userSpaceOnUse"><circle cx="0" cy="0" r="1.8" stroke="#000" stroke-width="0.24" fill="none"/></marker>
<filter id="bl" x="-10%" y="-30%" width="120%" height="160%"><feGaussianBlur stdDeviation="1.6"/></filter>
</defs>
<path d="M541,327.3 L545,326.7 L550,326.1 L560,324.7 L580,322.1 L600,319.9 L615,319.4 L628,319.7 L638,321.4 L644,323.6 L644,321.9 L638,330.9 L628,339.7 L615,346.9 L600,352.5 L580,358.0 L560,360.4 L550,358.2 L545,353.0 L541,347.7Z" fill="#000" filter="url(#bl)" opacity="0.66"/>
<polyline fill="none" stroke="none" marker-start="url(#mx)" marker-mid="url(#mx)" marker-end="url(#mx)" points="548.0,363.9 563.5,336.8 546.2,348.6 570.4,332.3 603.3,341.9 610.9,322.1 615.3,325.2 577.0,324.0 561.3,349.1 589.4,356.0 603.2,331.6 539.7,340.8 542.6,331.9 533.6,337.4 610.5,348.3 597.5,347.5 599.4,326.1 552.1,344.7 559.6,330.4 628.3,336.2 590.4,358.7 549.6,357.4 599.3,321.6 570.5,344.4 553.1,348.4 565.4,346.1 538.5,343.3 583.8,330.6 611.3,337.5 600.7,342.0 543.6,332.8 580.0,333.1 595.4,342.2 612.4,337.7 595.2,360.4 563.4,352.8 592.5,358.3 570.7,334.6 536.9,333.6 537.3,327.2 614.9,333.2 586.5,358.2 596.3,320.3 556.1,345.5 594.1,362.7 550.9,362.9 552.7,339.0 595.1,320.0 598.7,328.2 589.9,357.4 574.9,367.4 569.7,362.4 604.7,336.4 547.8,367.8 577.7,334.6 607.3,343.0 572.4,325.6 609.2,358.3 557.4,362.9 599.1,332.6 542.2,334.9 560.6,339.7 542.3,346.0 566.2,331.6 556.5,356.2 590.7,356.7 589.6,350.8 543.0,349.1 553.5,360.2 572.7,321.1 578.0,359.1 605.3,351.0 569.1,320.1 609.7,340.8 540.7,349.5 596.5,328.7 604.8,331.7 552.1,362.1 561.7,359.5 560.6,340.8 599.2,352.3 591.5,358.4 591.5,335.9 555.1,324.2 603.5,326.8 605.1,338.6 541.4,333.5 577.6,345.0 571.5,346.4 557.9,339.9 595.5,321.0 550.2,334.1 547.5,332.9 550.0,368.1 575.6,324.9 593.4,337.6 580.6,336.4 555.5,358.4 592.8,321.5 608.2,322.0 562.1,376.9 582.3,327.6 572.4,365.5 582.6,357.6 563.8,327.7 600.1,337.3 598.1,352.4 584.0,345.9 605.5,333.4 592.4,355.2 588.8,344.4 606.9,355.1 595.1,358.5 568.5,335.5 551.0,360.2 544.9,341.0 559.3,368.4 542.8,337.8 601.1,350.9 545.4,334.8 584.0,335.9 606.1,331.4 590.8,337.0 600.7,364.2 597.9,367.2 578.9,334.0 588.5,320.5 545.1,335.2 537.3,342.7 541.3,335.3 551.7,368.3 559.1,333.5 584.0,342.4 589.7,323.4 589.4,329.4 548.3,358.1 565.6,328.6 569.0,338.1 593.9,322.3 561.4,325.0 565.7,332.2 603.5,328.5 575.7,334.6 600.2,328.5 592.1,357.4 548.6,353.5 575.6,346.3 623.0,357.6 559.4,330.8 584.8,349.2 552.3,337.7 546.6,343.7 556.6,338.9 598.7,374.8 553.6,334.8 590.6,335.3 581.4,336.0 567.4,331.1 540.4,340.0 593.8,322.9 566.9,353.7 569.2,337.6 554.9,340.9 556.4,339.6 536.8,348.1 578.0,360.9 612.3,323.7 563.3,363.4 585.3,342.6 607.3,356.9 539.7,344.9 580.9,366.2 592.2,355.2 557.1,326.6 575.9,347.9 605.9,319.0 594.7,355.9 590.1,318.6 619.7,344.2 607.5,328.0 604.6,340.2 599.7,321.3 566.4,354.2 568.7,326.1 534.9,351.0 610.1,323.7 593.0,354.5 575.7,358.5 559.4,350.2 598.5,341.9 566.7,360.5 540.7,329.0 545.0,325.9 570.8,334.2 586.9,334.3 540.6,332.6 625.6,317.4 540.2,369.4 571.8,325.2 544.4,354.2 543.2,341.4 540.7,337.2 538.9,356.4 579.7,355.0 569.9,325.2 585.7,362.4 588.6,325.6 547.2,358.8 563.3,331.6 564.1,367.2 568.0,349.6 605.4,340.0 546.3,347.2 547.9,341.1 571.7,339.3 553.2,318.9 571.0,358.9 561.4,355.8 559.4,337.2 596.9,330.2 618.1,339.2 560.9,334.5 584.0,344.0 544.5,343.2 596.3,338.5 559.3,346.5 589.2,336.5 606.0,328.1 568.4,351.4 595.6,341.3 577.2,329.4 595.8,353.1 569.0,366.6 559.5,343.8 542.6,343.0 601.8,342.0 584.3,335.0 569.7,355.0 553.3,371.6 586.7,322.7 593.6,329.1 579.4,330.6 613.8,321.9 557.1,349.1 545.7,347.4 580.0,325.2 541.2,355.0 575.0,348.7 561.0,325.5 564.1,367.7 541.9,336.0 578.7,353.9 603.6,348.3 568.4,356.5 542.9,349.3 577.4,332.2 600.7,326.5 573.3,345.4 555.4,333.9 543.6,326.5 567.1,339.6 605.1,349.3 550.0,340.5 549.9,343.3 585.8,347.0 544.0,339.3 540.4,333.8 564.3,353.0 557.8,329.6 613.3,317.9 614.6,337.5 576.8,337.7 589.8,354.3 570.8,344.8 564.3,360.9 586.4,344.6 579.5,334.8 601.4,337.1 560.6,347.2 603.1,351.1 536.0,341.7 615.3,358.4 588.8,324.9 588.8,347.7 542.0,322.7 558.4,328.2 571.6,341.2 608.4,323.7 556.7,352.2 558.6,338.4 559.2,347.4 600.5,342.3 595.3,372.7 554.1,344.0 588.3,337.0 599.1,342.8 558.0,353.8 538.3,330.2 540.7,327.2 547.6,343.7 579.7,354.3 555.2,345.0 582.2,349.3 549.5,349.4 609.7,361.4 562.7,353.5 599.8,341.6 615.9,324.3 589.4,325.8 536.0,349.4 606.1,318.8 545.4,327.9 547.2,337.4 567.5,324.6 554.5,343.5 570.5,335.5 563.2,351.7 574.0,346.3 599.5,340.2 617.5,344.8 579.7,333.4 574.1,334.7 552.0,329.8 585.9,328.8 538.1,367.1 565.1,328.7 607.5,339.8 540.5,342.0 575.4,365.4 556.2,343.6 594.4,342.4 567.6,324.9 566.3,367.6 570.8,362.7 582.1,337.6 539.7,349.8 557.2,334.0 537.6,341.7 591.4,346.0 557.8,341.3 612.5,350.0 573.2,329.1 577.6,348.4 554.1,337.0 607.2,345.2 570.3,324.7 591.7,343.4 608.5,348.7 600.2,331.0 581.4,333.1 598.1,359.8 559.4,350.3 587.1,352.8 550.7,354.6 589.8,319.3 604.5,344.0 572.2,359.0 613.6,316.8 615.9,317.3 548.0,348.8 619.0,326.1 550.7,343.1 624.8,318.7 612.4,348.0 602.2,333.8 583.8,352.4 605.3,363.9 573.7,349.4 556.0,326.1 541.8,339.7 590.0,344.4 545.2,346.6 598.6,337.1 577.7,353.8 611.2,340.7 597.9,334.0 585.0,339.9 586.2,330.3 608.2,329.6 593.9,324.3 548.1,352.3 606.4,333.3 559.5,339.3 556.8,344.6 608.9,338.9 599.1,338.3 562.3,334.4 577.4,335.3 620.1,319.3 600.8,335.7 579.0,322.0 538.5,332.2 551.8,356.8 538.8,339.1 552.3,349.6 609.4,321.5 550.2,349.6 550.6,332.2 614.2,342.3 597.3,320.9 545.5,334.7 608.2,347.8 599.8,336.1 560.9,367.8 557.8,347.2 590.7,332.9 579.4,339.8 553.0,367.1 595.3,365.5 594.7,319.5 540.5,342.8 618.3,314.2 573.1,359.2 601.4,329.1 607.6,318.4 556.6,361.2 562.5,336.3 541.2,354.4 556.5,355.0 592.2,353.8 597.4,333.6 574.9,335.6 620.1,353.4 606.1,351.9 581.7,352.6 578.8,336.4 594.3,356.0 606.8,325.9 600.7,355.2 549.7,364.2 601.5,343.8 553.5,348.8 560.1,343.0 565.5,336.3 543.3,357.3 612.7,322.5 554.5,352.6 595.1,360.6 596.3,339.0 601.9,348.3 604.5,338.3 592.6,360.1 568.4,339.7 562.5,360.5 613.8,325.9 546.3,331.6 565.1,335.3 592.7,358.2 569.4,353.7 576.7,330.5 549.8,358.6 543.6,354.6 576.1,331.1 593.8,342.7 541.5,334.5 606.8,354.6 593.9,343.9 603.3,324.6 603.3,357.9 539.7,377.1 558.4,347.2 535.7,344.5 542.4,334.7 597.9,334.4 544.8,329.9 569.6,354.9 590.5,326.4 603.8,356.7 538.9,339.9 569.4,326.4 557.5,333.3 545.4,350.3 565.8,368.1 544.8,350.3 549.3,358.3 603.5,350.2 601.9,329.4 599.5,355.2 597.7,332.9 600.3,335.5 590.9,325.5 625.2,337.2 585.9,325.8 596.7,327.7 558.7,366.0 581.4,332.5 599.2,331.1 586.4,341.5 560.0,333.9 580.0,337.1 552.1,361.0 592.0,332.2 567.8,328.2 604.7,358.0 592.2,335.9 554.1,336.0 581.8,330.9 601.1,339.2 599.8,357.4 607.4,338.5 548.6,342.8 594.5,338.5 549.1,330.2 588.3,357.0 563.9,332.6 598.3,344.8 546.0,326.8 605.4,338.9 560.4,345.7 536.8,364.5 617.1,337.7 535.3,363.8 594.3,335.3 605.5,363.2 578.0,320.1 561.9,320.2 539.8,343.4 612.2,334.8 613.2,331.6 588.0,348.8 592.2,333.0 615.5,324.5 600.2,322.2 571.8,352.5 581.8,345.7 608.6,332.9 610.2,328.6 547.2,338.2 591.1,326.9 569.6,324.3 605.4,324.3 554.6,333.3 618.2,341.4 536.9,332.4 602.3,328.7 609.6,325.8 578.2,316.3 600.2,357.4 536.9,347.3 607.4,356.4 560.1,345.7 590.4,342.2 604.2,360.7 582.3,338.3 558.5,351.2 544.1,335.5 592.4,335.8 542.1,329.6 538.8,334.2 576.9,367.9 554.5,349.9 543.5,346.8 614.2,322.4 578.9,360.8 557.7,325.1 594.8,319.5 597.3,337.4 590.9,346.0 568.8,343.0 555.2,346.1 610.7,342.6 562.2,350.0 559.7,331.2 577.7,352.2 540.9,332.7 567.0,338.8 557.2,335.5 604.7,334.6 540.1,345.9 540.7,358.3 557.7,323.8 551.5,342.9 621.4,328.7 618.7,350.6 614.0,360.8 551.5,330.2 615.6,324.3 558.5,352.7 546.0,355.3 562.2,328.0 584.1,342.2 577.7,349.9 554.1,344.7 566.8,351.3 583.6,342.4 594.3,375.3 610.0,337.0 586.4,366.9 548.5,328.8 617.6,321.8 591.8,334.9 610.0,324.6 568.3,335.3 551.3,334.8 568.1,355.6 572.2,364.4 574.9,333.3 585.6,351.4 596.4,344.7 568.0,325.2 603.3,326.1 575.8,347.3 537.2,342.9 565.6,342.0 541.6,334.0 582.9,325.3 588.4,364.5 609.2,339.9 576.7,323.2 577.4,338.6 592.4,321.2 562.9,332.3 605.3,325.1 598.4,323.9 608.9,355.7 543.1,325.3 552.1,343.9 600.9,327.0 543.1,346.0 564.2,340.0 552.4,330.2 589.9,323.8 551.0,366.0 574.3,326.8 536.8,338.6 571.7,332.5 601.3,333.3 560.3,344.2 571.6,344.9 587.5,334.6 540.2,326.0 568.0,362.8 570.6,344.1 583.5,342.9 579.4,337.1 598.6,349.4 547.2,328.5 594.4,337.6 587.5,355.2 557.8,362.9 586.8,335.4 538.1,340.3 606.7,353.7 601.3,344.0 570.2,333.5 579.3,366.3 561.0,331.9 593.4,354.4 571.1,366.4 608.9,338.0 579.1,334.9 592.6,319.7 607.5,352.0 605.5,338.9 578.9,337.7 601.5,345.1 582.0,338.3 608.0,321.6 615.8,325.7 557.9,331.7 571.5,334.5 595.5,327.6 600.7,334.2 601.7,346.3 616.4,316.0 600.6,326.5 604.7,337.8 563.1,330.6 557.3,352.4 606.1,353.1 578.4,362.6 541.4,359.7 579.9,333.4 550.3,376.9 588.6,354.2 582.5,340.4 551.3,348.5 539.5,332.7 600.3,331.1 544.9,337.9 544.9,342.0 581.9,353.7 550.7,363.5 540.6,351.3 556.7,338.2 609.7,343.7 539.8,337.2 613.1,343.9 584.4,330.9 602.9,321.8 545.1,369.4 584.9,358.5 602.0,340.1 540.7,330.8 546.9,365.8 596.1,343.8 597.8,342.3 568.5,323.5 540.7,339.6 570.8,354.3 602.5,323.3 612.6,340.2 563.6,337.5 604.7,357.2 605.9,351.2 553.9,351.6 619.1,355.7 603.4,348.6 553.6,332.9 580.2,332.9 575.6,334.1 572.6,343.3 600.3,327.8 566.3,334.0 579.0,348.5 570.2,321.8 558.0,340.8 604.7,354.7 585.9,364.2 597.0,328.6 550.7,367.8 613.2,331.9 575.1,356.1 566.4,361.3 583.7,322.9 584.4,332.9 561.3,369.1 622.5,332.9 562.5,338.4 599.0,350.9 619.0,329.1 578.7,330.2 603.9,340.1 570.0,354.2 577.5,339.9 596.6,325.7 593.8,352.9 613.6,340.7 623.7,345.0 595.7,349.0 564.6,340.6 598.4,334.2 604.9,332.1 581.0,347.4 550.0,347.6 554.8,355.6 590.8,343.0 611.0,346.8 596.1,338.1 597.0,321.8 576.4,361.8 600.4,351.5 608.1,330.4 603.7,348.0 585.1,347.1 572.7,335.0 601.1,338.9 598.4,335.1 574.1,350.5 570.6,356.4 581.2,328.9 556.8,339.7 535.5,342.7 593.7,332.2 537.2,339.6 583.5,339.1 614.5,316.7 591.5,346.2 610.8,318.5 540.3,326.5 604.4,317.7 595.3,340.6 564.1,330.2 602.9,334.4 571.5,354.2 613.9,352.2 602.3,349.9 566.7,314.8 545.8,335.4 551.1,324.1 540.4,335.4 546.1,341.3 600.3,323.5 592.4,326.9 547.2,334.6 600.0,336.2 599.1,365.1 583.2,330.1 563.4,341.3 621.1,326.1 563.6,344.3 559.7,366.0 564.6,336.6 597.9,317.4 551.1,341.7 573.1,358.8 555.5,343.0 602.7,328.8 610.9,336.0 542.3,333.2 554.4,334.0 540.5,343.5 580.1,331.1 607.7,328.2 594.2,324.6 539.4,333.0 596.6,365.4 572.3,330.4 542.5,329.0 551.7,313.1 554.4,319.1 607.1,344.7 599.0,347.5 595.3,340.0 540.6,341.8 568.3,335.5 586.8,360.3 558.5,352.1 572.6,326.6 568.7,364.9 568.3,360.2 538.5,328.5 601.4,320.7 539.6,364.7 590.5,333.5 552.4,330.0 598.4,333.0 539.8,345.5 587.6,336.6 540.8,337.3 573.7,338.3 596.4,325.1 589.2,321.4 558.8,347.4 597.0,348.5 593.2,343.9 540.0,344.9 575.4,322.6 615.5,327.1 558.6,360.6 543.9,339.6 569.2,353.0 542.8,335.4 593.3,326.3 539.7,346.2 562.8,352.0 563.7,336.9 549.8,332.4 563.7,346.3 544.5,329.0 578.3,336.8 555.0,329.8 555.1,352.5 550.0,372.6 545.9,347.4 541.9,350.3 550.8,366.3 574.1,363.4 549.3,344.5 561.9,360.2 602.2,332.2 588.9,351.1 573.2,341.8 578.6,356.0 601.5,345.3 568.6,354.4 579.4,336.3 570.3,331.7 549.4,339.1 568.9,345.4 549.8,334.1 616.0,338.6 586.9,371.4 597.1,337.8 629.7,344.8 574.2,334.8 553.0,345.0 582.0,320.9 609.0,324.2 604.8,326.3 545.9,340.6 543.6,375.2 584.8,343.7 551.7,328.5 571.9,349.1 540.2,344.4 578.0,366.8 600.0,354.2 547.1,337.3 600.4,333.3 557.3,345.0 621.3,317.6 566.5,335.6 555.0,327.1 590.6,362.3 578.0,331.9 584.7,360.0 601.2,332.0 566.4,329.8 599.2,337.6 539.8,340.0 572.2,333.5 554.1,337.5 609.9,343.8 547.7,335.4 539.9,343.6 562.7,328.1 547.8,336.2 594.4,346.1 603.4,362.8 618.4,342.7 599.3,325.0 538.6,333.4 540.0,362.0 568.6,364.6 557.1,353.7 581.6,357.8 571.7,333.3 625.0,347.1 601.0,353.5 569.7,373.3 589.9,336.2 626.0,335.6 536.0,327.4 593.8,335.9 544.6,345.3 597.1,353.1 622.4,316.9 618.1,349.6 578.3,324.2 546.5,334.6 621.6,329.8 539.5,340.0 596.5,346.9 578.8,343.2 601.1,332.1 591.8,319.6 558.5,348.2 602.9,319.0 567.5,328.0 595.8,321.7 537.2,335.4 546.4,333.2 591.8,355.9 583.2,361.6 596.6,330.4 604.4,320.1 622.9,350.3 554.3,354.4 583.5,364.9 557.6,361.5 560.8,348.8 588.0,319.9 534.9,331.4 591.2,327.5 596.4,354.9 558.8,350.5 586.9,333.7 617.0,361.7 541.1,333.9 571.4,341.4 605.5,363.2 592.1,331.9 549.2,365.6 547.1,336.5 575.8,323.5 582.6,343.6 539.7,350.0 552.0,337.4 607.0,340.1 611.3,360.1 608.2,358.9 571.3,352.3 607.4,336.0 604.9,353.9 589.9,334.9 609.6,325.2 594.7,345.8 577.8,320.3 614.5,349.3 602.1,337.3 595.4,345.4 551.9,331.2 539.7,350.4 581.4,363.9 578.2,363.5 604.9,339.1 541.6,332.4 560.6,343.7 542.2,336.8 607.2,335.3 562.4,352.6 601.2,331.1 576.0,354.1 612.2,339.5 561.8,337.9 602.4,349.8 598.4,359.2 566.1,334.7 568.0,363.0 587.8,334.4 575.4,327.6 539.0,340.2 600.6,326.1 598.9,341.9 597.7,332.6 594.5,354.8 625.1,333.9 543.3,347.5 603.9,338.1 593.0,330.2 568.0,331.6 546.1,352.7 569.8,358.0 590.8,354.5 548.9,343.4 575.2,341.6 566.4,360.8 563.8,328.3 543.8,335.1 536.2,364.4 546.2,333.7 603.7,325.1 587.0,328.1 548.1,353.1 599.1,332.6 613.3,327.3 547.7,340.3 578.1,346.8 577.5,357.3 558.0,357.5 562.4,378.9 585.5,361.0 534.3,333.4 559.6,345.4 537.9,350.9 590.7,324.4 597.9,326.3 578.5,352.8 622.4,323.2 604.0,345.8 564.6,323.0 632.3,313.0 572.3,334.9 594.5,329.3 609.7,343.9 600.9,333.6 539.5,349.2 591.7,350.7 609.2,330.8 606.8,331.9 547.4,353.8 611.9,337.3 567.8,322.7 609.0,330.9 546.0,324.2 607.0,343.2 605.1,320.5 539.2,338.6 577.5,366.8 568.1,341.5 594.5,355.0 579.0,338.8 589.6,325.0 580.4,346.3 612.0,341.2 568.4,344.0 626.1,329.9 596.0,326.6 553.4,368.2 612.3,342.7 569.9,334.0 589.1,330.8 611.8,334.6 540.3,342.7 594.1,327.9 596.1,343.7 611.1,319.2 620.4,340.3 543.5,338.0 573.9,340.6 591.6,336.8 551.8,352.3 552.9,362.0 603.3,340.3 604.1,344.3 563.1,337.5 547.4,348.9 582.6,362.4 603.2,346.6 590.4,360.1 539.0,353.8 602.0,351.7 553.5,355.8 573.7,356.2 573.0,343.6 586.3,353.0 608.3,317.4 539.9,332.6 598.9,319.5 539.0,342.3 571.6,341.2 546.1,317.5 602.8,371.7 612.5,330.6 609.0,319.3 539.6,335.6 600.6,354.0 551.7,344.6 570.0,323.5 608.0,316.1 589.0,323.2 611.7,332.6 559.4,331.9 560.5,338.5 568.4,346.0 538.3,340.1 546.3,338.6 540.9,333.0 544.3,342.1 543.6,324.8 562.9,340.5 611.5,330.5 596.9,330.6 554.0,357.9 553.6,367.0 538.8,339.7 618.0,340.5 555.7,362.1 592.2,334.2 551.8,327.3 607.3,322.8 557.7,332.9 559.8,357.0 620.1,329.2 553.2,335.0 622.4,334.3 564.8,349.0 616.4,359.4 601.1,332.4 556.4,347.4 565.7,351.8 568.0,333.2 555.2,328.4 581.5,347.3 594.1,343.6 584.8,337.0 561.2,330.3 603.8,333.6 545.5,341.7 606.5,320.8 606.6,341.3 564.2,345.6 567.7,367.4 562.0,330.5 580.9,329.1 585.3,333.1 565.0,335.6 556.6,334.3 602.8,359.3 611.4,352.1 564.4,330.6 596.4,331.9 535.4,357.3 568.6,351.9 550.2,338.6 611.8,352.0 554.5,316.3 562.0,360.6 597.9,323.7 571.4,365.2 551.9,353.7 609.5,331.3 536.5,338.1 547.5,343.4 553.7,338.6 567.7,335.7 597.6,349.8 585.4,323.6 540.1,346.5 548.6,352.3 543.3,333.2 544.3,342.5 547.5,328.4 585.1,343.6 579.3,334.7 538.5,344.8 598.5,327.8 549.2,348.9 542.9,375.2 551.4,351.5 589.7,338.3 541.7,329.2 610.2,343.8 572.1,335.4 598.8,336.0 608.2,362.8 615.2,349.3 543.6,338.8 573.7,337.4 600.3,330.1 540.6,363.8 589.8,360.4 536.8,336.2 602.8,322.5 580.4,328.1 551.5,319.2 573.5,340.9 542.2,327.4 583.5,349.3 586.3,357.8 534.7,340.1 558.1,328.7 567.1,355.3 569.9,357.5 564.9,353.4 594.7,341.6 581.4,357.0 550.9,349.8 583.6,347.9 599.7,355.2 578.9,360.4 545.3,350.6 546.9,346.3 580.6,341.4 554.3,343.6 554.9,335.6 610.2,336.9 579.6,325.7 593.0,336.9 537.9,346.9 605.7,342.2 565.9,328.5 563.0,338.5 540.4,333.0 605.9,356.6 575.7,326.2 547.6,336.1 549.1,327.5 556.8,345.2 545.3,348.8 598.7,349.3 620.8,331.9 563.5,324.7 549.6,336.9 602.1,334.2 591.3,331.4 585.3,356.5 596.9,344.2 598.9,342.7 585.4,334.1 615.0,334.3 547.7,347.4 555.1,353.8 542.2,331.5 555.8,350.0 620.3,350.0 602.3,320.8 540.1,332.7 608.5,331.5 607.5,330.6 615.2,326.1 548.0,362.1 558.2,357.9 550.9,359.3 568.1,351.1 588.0,326.2 601.1,325.5 572.2,345.8 550.2,332.7 556.1,329.6 609.9,348.4 566.3,340.0 551.9,365.3 616.9,352.7 606.2,354.9 546.3,340.1 603.7,338.7 589.9,342.6 602.6,359.0 611.0,334.1 541.5,337.9 557.3,336.7 558.7,328.4 562.1,364.0 599.8,370.1 554.5,334.2 564.8,341.4 606.7,353.8 559.3,351.1 559.0,319.6 608.5,327.0 573.7,358.0 601.2,338.5 611.6,342.9 571.0,338.7 572.1,332.6 557.3,339.4 605.4,319.1 590.4,320.7 548.5,328.2 556.6,349.0 602.0,326.9 591.4,340.2 590.2,342.4 542.6,349.0 614.7,326.9 605.1,339.7 626.3,351.1 538.5,328.7 537.6,345.7 550.2,344.6 581.0,346.5 564.4,335.6 577.0,334.1 559.3,340.4 552.3,345.0 597.2,324.5 589.3,333.1 554.4,337.8 538.8,340.6 544.8,342.6 561.7,331.1 579.7,345.4 606.8,349.5 540.3,338.0 603.1,325.4 591.0,344.1 564.6,349.8 582.7,364.4 597.3,348.9 602.7,324.9 590.3,346.0 613.1,349.4 613.5,323.2 565.6,341.7 568.6,324.8 579.1,327.4 610.9,351.6 589.4,364.1 591.4,344.9 591.8,328.2 551.8,364.5 543.4,328.0 552.4,335.0 572.3,335.2 552.7,348.5 566.3,369.9 588.5,341.0 599.3,328.3 579.7,339.1 569.4,350.7 544.1,345.7 548.4,338.6 576.2,334.7 571.1,339.9 574.9,344.0 556.2,352.2 601.4,324.3 541.9,335.2 563.9,358.8 550.0,362.9 600.6,353.7 557.7,346.4 595.4,328.1 577.3,351.0 602.3,336.5 540.4,339.7 585.1,332.3 607.1,350.1 551.4,346.4 610.0,324.5 599.5,320.5 575.9,372.3 574.9,342.7 598.0,336.1 598.9,333.5 588.5,345.1 565.8,335.6 588.8,333.3 595.6,325.1 560.6,356.7 573.2,332.7 572.0,366.7 561.7,346.7 537.6,328.5 604.9,342.1 536.8,329.6 600.7,357.4 539.5,330.3 580.3,321.9 574.4,321.9 582.3,351.6 557.3,329.9 539.9,336.5 578.0,362.4 569.1,379.7 595.1,331.8 567.8,319.3 602.6,323.3 537.1,344.0 568.2,365.1 593.8,335.2 559.0,327.3 576.2,326.6 537.3,329.1 599.6,329.7 584.6,352.2 612.3,330.1 562.3,349.0 550.7,350.6 539.8,333.1 557.0,336.3 558.0,344.3 537.6,341.4 606.8,330.8 586.2,339.6 579.7,345.5 536.7,366.0 609.4,336.3 623.2,319.0 548.3,360.3 580.1,325.0 560.0,339.0 601.1,336.4 548.3,364.9 565.7,336.0 546.8,346.5 540.0,331.7 541.5,357.4 548.1,362.0 540.8,336.9 599.4,335.2 559.3,349.5 543.8,339.1 621.8,341.8 544.3,332.2 549.9,344.4 615.9,337.1 566.1,331.5 636.1,343.3 562.4,352.4 602.4,352.0 598.7,357.5 599.3,326.7 570.2,330.7 554.3,353.6 534.0,330.0 577.1,325.1 562.5,348.7 601.8,347.7 585.1,357.1 583.4,323.4 602.7,357.2 591.9,343.6 558.5,322.1 548.9,350.7 588.2,335.0 549.7,346.2 535.4,365.0 541.8,338.9 595.8,355.7 574.8,334.2 609.0,322.7 578.3,328.3 613.5,351.6 541.9,331.3 607.3,344.3 562.7,322.1 547.7,328.3 604.5,350.7 607.6,321.7 560.8,340.7 605.2,358.0 569.0,358.7 598.7,323.8 590.1,335.6 603.9,325.6 562.4,365.2 537.1,364.3 571.7,343.4 559.9,367.3 559.4,364.5 597.3,357.6 592.8,359.9 565.3,325.6 559.0,348.8 600.4,342.1 552.7,352.8 595.4,331.7 597.8,337.3 592.0,350.9 603.3,348.0 538.1,362.2 611.5,324.8 557.6,376.2 596.4,343.6 567.3,347.5 573.0,340.9 539.0,353.7 547.7,340.4 544.1,347.5 570.6,363.9 605.7,332.0 540.8,345.1 556.4,358.5 545.6,336.6 563.8,340.5 537.9,339.8 560.0,340.7 605.9,326.0 605.0,343.7 604.2,327.8 571.9,324.4 556.9,362.2 556.6,345.0 545.9,336.2 595.4,335.6 613.5,346.2 550.8,359.7 601.0,348.0 605.9,328.4 578.1,354.6 538.2,347.9 565.6,338.0 599.6,353.8 563.8,340.6 563.2,351.6 563.1,343.8 540.7,335.9 587.1,332.2 552.5,345.6 548.2,328.3 535.8,361.1 612.7,328.5 558.9,340.4 562.6,361.4 596.2,353.2 542.5,354.7 611.8,330.2 599.8,325.1 539.8,338.4 540.3,336.0 615.7,326.4 594.4,330.1 608.7,321.6 573.5,355.6 550.8,351.3 603.5,331.8 590.6,339.4 596.3,346.8 582.4,341.2 540.1,349.7 611.6,345.6 570.0,342.5 556.8,338.0 560.4,364.1 548.2,324.1 541.4,340.5 540.8,342.9 575.1,352.9 581.1,351.2 537.7,371.5 592.8,330.5 561.6,317.1 573.4,359.0 578.7,334.4 541.1,329.8 538.3,337.3 570.9,345.3 572.5,355.6 563.2,353.1 538.4,334.7 539.6,341.8 570.2,348.7 550.3,364.7 569.5,328.5 593.0,332.0 561.7,358.4 596.4,347.2 561.8,321.5 577.7,346.9 553.1,334.6 631.1,329.9 612.5,323.9 600.2,327.3 562.1,352.3 605.3,330.9 553.6,340.1 604.9,335.7 564.6,341.4 552.9,336.3 541.0,366.7 586.5,324.8 553.3,352.7 576.5,330.5 551.6,351.6 615.6,351.5 556.7,356.8 542.2,334.9 581.7,329.1 540.5,365.3 560.0,357.1 544.5,354.5 588.1,339.9 545.5,346.7 587.7,369.1 614.7,334.1 596.8,355.7 577.8,375.4 574.8,342.3 563.1,332.1 593.6,321.7 555.0,331.5 594.7,337.2 579.6,329.2 613.6,331.4 564.0,342.3 576.4,344.9 570.6,326.2 595.0,355.8 560.7,353.7 608.0,349.3 558.3,344.6 570.4,333.2 596.5,323.8 542.7,352.0 602.5,351.1 598.5,341.5 560.2,362.9 603.0,334.9 575.6,366.2 586.1,330.3 592.9,331.0 581.7,348.2 608.8,347.6 585.3,327.7 588.0,311.0 583.9,340.3 589.1,346.5 565.5,336.6 562.9,332.6 598.5,326.2 546.9,363.8 629.3,324.7 592.2,361.1 599.2,330.7 585.3,346.0 536.7,331.4 582.8,345.0 588.4,327.6 546.9,340.6 561.4,345.2 540.0,360.1 615.7,333.4 587.1,335.3 542.4,338.6 558.9,358.5 541.4,341.8 582.6,359.5 574.3,339.1 571.0,347.8 600.4,354.4 551.4,327.9 560.0,333.8 606.9,313.8 550.5,337.3 553.8,352.8 582.5,333.3 624.6,331.8 610.6,334.5 574.2,341.7 582.0,325.5 605.4,324.3 566.9,344.3 605.7,358.0 604.6,326.1 598.3,321.6 565.6,332.3 555.6,333.3 610.3,347.8 545.4,336.2 580.7,356.3 540.1,333.0 559.0,324.4 547.4,331.5 587.4,338.5 556.2,352.2 608.0,327.2 537.5,338.9 552.3,365.7 612.2,348.1 614.4,324.5 557.4,375.4 629.4,331.9 593.1,321.1 569.4,330.4 575.8,346.0 561.2,359.5 551.4,353.2 542.4,347.7 607.5,341.0 578.3,347.2 560.5,334.4 598.3,324.4 559.3,320.8 564.1,335.4 583.5,341.2 547.2,325.2 593.6,328.8 609.8,329.8 596.0,331.4 595.1,322.2 572.7,329.6 600.2,363.8 563.4,326.5 601.1,330.8 538.9,328.2 562.1,359.0 555.8,340.3 608.1,334.4 598.8,358.9 548.3,332.9 616.1,340.2 566.0,350.1 598.8,355.7 609.5,343.6 591.4,350.3 556.9,356.0 594.0,326.1 610.7,326.0 554.3,354.2 542.2,341.0 585.1,362.4 615.8,339.2 557.7,335.3 542.0,357.5 576.0,326.8 569.3,327.7 608.9,325.6 595.4,331.9 557.3,352.7 628.0,323.5 567.0,370.1 609.9,351.4 573.5,342.3 572.2,327.1 568.9,326.7 554.4,369.5 557.7,337.6 560.0,324.3 584.4,345.4 556.6,357.6 557.0,330.3 604.4,329.5 607.3,353.2 618.3,329.3 568.0,355.3 544.9,326.7 580.6,354.3 542.6,357.6 563.0,365.0 584.5,325.1 607.7,370.0 605.1,324.2 605.1,330.5 587.8,336.6 600.5,337.4 549.8,367.2 602.3,340.4 585.5,361.1 539.0,356.3 567.3,325.2 542.9,344.8 591.8,333.6 554.9,356.4 552.0,356.6 573.2,328.9 540.1,345.0 591.8,356.9 551.8,341.6 608.2,349.5 582.4,356.5 562.1,342.9 606.0,320.7 542.3,363.5 585.5,329.2 576.4,366.3 599.8,335.0 581.2,336.5 559.1,348.4 537.1,330.4 595.6,318.3 557.2,336.1 605.3,349.8 595.0,335.3 586.2,349.6 574.2,329.6 537.5,328.1 578.3,360.1 541.5,346.6 593.5,337.0 559.0,334.5 611.5,340.8 540.1,342.3 570.2,326.6 560.2,354.5 560.8,362.1 590.1,347.2 551.3,355.4 555.0,341.6 566.5,355.8 564.9,363.8 576.0,364.1 553.2,335.1 554.9,345.7 614.2,350.5 606.9,323.2 548.9,355.0 547.1,338.4 609.9,322.7 607.2,358.9 592.2,329.1 555.7,331.4 565.3,341.6 576.1,340.9 577.9,331.1 605.9,342.2 599.9,338.4 578.3,360.3 601.8,346.7 604.4,337.9 564.1,354.8 562.2,332.0 568.6,367.5 604.5,345.2 559.8,361.2 579.2,332.7 552.8,365.8 583.9,333.6 614.6,317.1 553.1,374.8 597.9,319.1 610.5,344.9 543.4,341.0 596.6,330.3 634.9,331.5 615.9,334.1 565.3,367.2 583.9,325.3 574.9,340.6 540.9,342.2 571.6,332.8 534.8,327.2 548.0,341.7 580.5,357.8 545.8,342.2 604.3,362.5 608.1,347.1 555.7,340.7 541.4,338.3 540.2,334.3 545.6,346.1 555.7,341.4 567.8,327.0 610.7,324.9 583.1,329.6 570.0,343.4 543.5,329.3 539.0,346.0 547.8,337.8 559.9,329.9 611.4,341.5 602.0,353.2 547.1,365.4 577.9,366.2 569.6,364.5 585.0,329.7 608.5,334.5 569.5,340.6 554.3,350.7 585.2,339.1 551.8,353.0 585.7,365.2 543.9,329.8 584.0,328.6 539.1,337.5 595.8,341.1 580.5,346.5 554.2,327.3 596.8,359.8 536.4,333.9 601.0,337.4 568.8,335.3 571.8,341.2 610.7,339.7 593.5,338.1 597.5,359.5 584.7,343.5 571.4,351.3 574.2,341.3 556.9,326.9 550.2,341.4 569.4,345.1 594.3,340.9 606.0,321.6 602.4,323.3 547.0,333.1 566.2,350.9 586.2,325.5 591.3,328.5 590.2,330.4 595.6,318.4 583.1,328.2 538.9,348.3 606.7,333.8 583.0,339.6 590.3,357.5 551.1,329.2 544.1,329.1 562.3,350.7 608.4,349.7 585.5,351.9 561.4,331.3 573.2,355.8 598.3,327.8 571.8,358.0 540.0,338.0 558.6,341.4 540.4,345.1 556.2,339.1 608.3,352.5 592.1,329.0 566.1,355.6 568.9,342.0 542.2,343.2 604.7,344.6 552.6,337.7 557.1,351.6 551.8,332.6 564.9,371.6 615.4,320.5 543.5,326.6 578.4,339.2 573.0,328.9 584.9,349.1 545.5,337.0 540.5,341.5 613.3,345.7 604.0,354.4 593.8,358.4 543.6,348.7 551.9,353.4 578.6,359.5 539.4,340.9 597.3,352.5 561.0,355.7 592.2,317.3 580.5,331.2 601.6,324.5 553.4,367.0 616.3,348.0 557.5,332.8 596.7,335.5 561.9,333.2 614.2,330.6 595.4,328.9 590.9,326.5 601.9,331.1 584.2,315.2 629.5,334.1 596.9,319.7 594.8,351.1 597.2,324.8 559.3,335.2 594.2,359.1 602.3,343.0 592.4,339.8 540.9,349.8 560.0,333.3 613.3,355.2 588.7,349.3 602.2,341.9 576.5,328.0 540.7,342.4 605.7,331.9 583.2,361.0 539.8,327.7 606.4,340.1 606.7,333.1 540.4,368.6 536.5,334.6 599.8,345.7 571.5,327.6 561.7,360.1 594.2,320.8 563.2,335.1 541.6,331.9 627.1,329.8 585.6,356.3 592.1,362.6 596.6,338.8 614.7,341.5 598.9,340.2 548.9,330.8 586.3,332.9 535.8,329.8 611.0,335.2 557.5,364.0 545.8,340.3 546.0,326.1 592.5,332.2 603.3,336.6 593.0,362.6 570.3,335.2 597.9,328.1 568.0,332.3 552.1,329.8 560.7,338.3 603.3,319.7 608.4,338.4 608.8,322.3 540.3,336.3 599.8,321.1 575.1,331.4 618.7,349.6 536.5,364.0 546.1,363.6 598.0,341.6 570.0,333.5 562.1,339.5 598.8,349.2 550.1,344.2 601.2,356.1 555.3,324.3 602.7,332.7 560.6,358.0 565.5,347.8 574.8,339.2 577.3,328.0 579.9,325.7 549.6,342.9 582.0,335.8 599.6,341.4 579.3,334.2 610.6,316.1 567.4,339.4 601.2,341.5 541.7,350.1 565.1,375.7 561.4,327.6 602.3,352.3 575.5,362.1 575.6,364.9 539.5,336.7 570.6,325.2 551.1,326.4 565.2,359.8 541.6,336.3 543.2,326.0 552.6,330.9 566.9,332.3 627.7,329.5 621.6,316.6 558.0,380.0 610.4,315.1 568.6,339.2 566.3,340.2 538.1,339.2 542.2,343.9 557.4,343.3 608.8,338.3 578.6,324.6 540.3,326.8 584.4,324.5 592.3,345.5 579.6,338.9 560.2,366.5 547.5,352.3 556.8,343.7 581.9,354.2 537.2,329.8 570.2,341.8 567.4,338.1 569.2,362.3 573.8,319.9 605.3,352.7 537.2,338.8 602.9,328.8 594.9,351.9 589.4,338.6 605.6,348.8 603.2,330.3 592.7,365.1 540.0,361.5 541.7,349.0 564.8,341.6 564.9,330.5 606.2,328.7 569.2,345.0 628.0,315.2 588.7,350.0 541.5,338.3 556.0,350.9 574.8,342.8 565.8,347.2 542.6,354.6 537.6,352.4 615.2,328.1 603.9,335.5 603.2,351.5 577.5,352.9 536.1,332.6 561.3,325.0 577.9,365.1 600.3,336.1 617.0,329.1 609.6,330.6 605.7,330.3 547.0,336.6 555.7,337.8 588.1,349.9 544.4,331.3 558.0,338.2 601.5,323.9 555.0,343.2 587.4,324.5 537.7,332.5 588.5,350.2 536.2,337.8 581.2,343.5 564.5,365.5 593.2,347.3 608.4,351.0 553.5,321.7 561.4,354.7 576.8,350.2 602.4,343.9 544.3,344.6 574.3,335.9 553.9,331.3 574.6,332.2 538.9,347.9 540.7,340.8 551.8,351.4 570.7,359.7 542.6,344.7 555.3,350.1 571.1,345.3 543.8,329.3 561.7,349.3 575.8,340.8 544.7,330.6 598.4,357.6 560.9,343.9 557.8,335.5 607.2,343.5 575.3,335.9 573.1,329.2 604.4,331.9 539.9,339.0 555.9,331.4 606.6,336.6 554.2,356.4 611.7,335.3 606.0,330.5 600.7,322.5 610.0,334.0 562.3,330.9 540.3,342.1 548.0,369.8 600.8,332.5 597.5,349.5 599.4,360.6 612.3,353.9 557.1,370.6 540.5,350.1 600.8,324.4 564.7,353.6 535.7,366.6 577.3,337.0 545.0,316.4 592.3,357.3 597.8,342.2 588.8,353.4 538.0,329.7 609.3,338.4 587.5,313.4 555.4,325.4 604.1,320.9 578.3,352.7 589.2,331.0 597.6,343.7 574.1,335.9 595.2,334.9 540.8,358.0 540.9,343.4 556.4,356.5 585.5,342.2 611.7,334.5 553.8,391.8 561.0,383.1 536.3,382.7 544.5,382.6 537.6,382.6 550.1,389.0 548.1,387.9 558.2,385.6 565.9,390.1 541.1,380.5 537.3,385.3 538.0,380.7 570.3,382.4 551.2,380.4 565.9,384.2 554.3,389.8 542.0,376.3 569.9,388.6 564.1,388.9 555.7,377.5 543.3,387.4 541.2,385.6 551.3,390.8 565.0,381.7 540.6,384.7 560.1,376.6 554.2,378.3 548.2,387.9 570.9,377.6 549.1,384.2 571.7,390.3 566.1,378.5 564.6,386.8 537.4,382.6 555.3,379.0 541.9,382.5 536.1,381.4 555.5,380.3 555.7,390.3 553.6,382.2 561.7,390.2 540.5,389.2 570.4,390.6 543.1,390.3 548.6,381.6"/>
<polyline fill="none" stroke="none" marker-start="url(#mc)" marker-mid="url(#mc)" marker-end="url(#mc)" points="631.1,343.4 637.0,340.4 648.5,328.4 606.3,335.7 619.2,328.3 617.1,344.3 565.9,347.9 644.7,322.9 601.1,336.0 568.6,332.5 639.7,322.7 635.9,321.1 624.2,321.3 636.0,329.1 635.9,319.4 607.2,322.8 660.5,316.0 665.0,317.3 604.9,329.0 602.4,355.7 675.1,315.3 591.0,335.2 609.1,349.7 581.4,341.5 636.6,326.3 619.3,320.8 622.2,318.7 646.2,342.1 640.1,340.5 604.1,356.4 629.1,320.8 634.1,320.8 618.0,323.1 602.6,318.0 615.6,320.5 650.4,331.6 608.6,354.3 651.1,338.7 597.2,359.0 631.5,323.7 634.0,332.4 626.9,333.1 606.1,354.4 596.6,331.8 616.2,336.1 617.2,318.6 609.5,356.6 615.9,320.9 678.3,308.5 652.7,319.2 666.1,321.2 626.5,331.5 583.9,324.1 589.1,361.1 671.7,315.7 608.8,348.5 634.6,335.4 617.8,347.6 627.7,322.9 611.9,336.2 581.9,343.1 651.0,326.0 642.1,347.3 637.6,328.6 615.0,349.3 595.4,325.0 589.0,321.8 667.2,320.2 626.8,331.6 613.6,347.1 604.9,335.8 565.4,340.2 583.5,330.3 678.8,321.7 613.1,318.4 639.3,330.5 618.3,343.7 604.0,340.1 602.5,335.6 594.1,348.3 665.2,310.9 661.5,313.1 676.2,318.3 580.8,342.0 669.0,326.5 660.9,309.7 651.9,325.4 659.3,305.5 614.5,322.7 652.8,327.1 635.0,318.6 611.8,330.9 642.2,340.9 611.2,344.1 582.2,338.6 628.8,328.6 617.3,328.6 605.1,329.2 669.1,325.0 604.5,323.3 584.6,347.7 619.2,343.1 637.3,309.7 664.4,325.7 635.3,324.8 608.2,325.0 629.0,323.1 595.4,337.5 601.9,320.1 634.3,339.5 616.1,314.1 620.6,331.2 596.5,354.0 624.2,342.2 662.6,332.0 583.1,332.2 619.5,354.2 660.6,327.3 634.5,319.4 664.5,321.3 677.5,318.5 578.0,332.9 607.5,313.0 608.2,341.2 640.9,314.4 606.1,344.8 598.7,341.0 601.9,357.0 663.4,329.5 669.0,328.5 619.9,347.4 646.9,341.2 663.6,314.8 637.2,347.2 645.3,325.9 593.0,329.2 601.1,346.6 602.9,342.9 608.4,355.5 610.9,339.6 611.5,333.8 600.8,333.9 568.4,340.8 666.3,341.9 607.6,349.7 613.5,338.9 638.0,325.9 672.1,316.2 604.9,344.9 599.3,352.3 662.5,316.5 618.1,336.5 603.2,343.3 601.0,330.6 643.7,321.7 578.1,337.7 659.0,316.0 617.5,321.8 619.7,316.2 585.1,339.3 601.1,346.8 608.1,318.7 616.2,325.6 634.3,328.8 618.9,335.4 616.2,312.4 611.1,333.5 672.5,318.7 630.0,332.5 635.8,351.6 602.4,350.0 590.4,329.5 613.7,340.9 593.8,324.8 566.7,321.4 624.1,328.3 596.5,326.9 652.6,346.8 604.6,359.3 614.4,324.2 664.0,332.7 632.3,338.1 627.0,330.8 596.7,367.6 616.5,339.3 615.1,365.1 582.6,345.7 653.7,309.6 615.8,320.6 644.6,350.9 611.8,346.6 590.8,334.4 598.4,348.1 592.9,332.7 632.5,318.7 658.5,328.6 667.2,323.7 643.9,339.8 587.7,348.4 661.5,307.2 652.4,320.7 605.8,353.1 604.5,336.9 633.5,319.6 578.8,330.6 614.2,322.8 616.1,331.6 650.7,321.7 586.0,336.2 609.9,325.5 602.1,332.9 597.7,346.5 607.9,331.2 644.9,335.0 614.5,311.1 568.4,340.8 640.6,332.4 626.8,343.2 621.4,333.4 586.0,325.7 580.0,335.6 602.4,324.0 591.4,334.3 634.0,326.2 581.6,356.2 593.1,348.9 622.4,338.7 582.6,343.6 578.7,339.4 591.1,324.0 607.0,359.9 607.6,348.7 636.5,357.1 636.0,343.0 578.9,334.6 602.5,330.4 591.8,324.7 601.5,339.9 571.3,336.0 620.5,322.4 674.4,316.0 605.8,347.4 640.9,325.3 598.8,347.6 599.8,347.7 602.2,337.3 646.6,326.5 646.9,323.9 614.4,338.9 589.9,344.0 605.7,322.7 612.7,341.5 605.7,349.8 614.6,327.0 610.6,338.5 634.2,325.4 595.6,330.8 597.4,345.0 598.4,343.2 602.0,330.5 642.9,342.4 629.4,327.7 593.7,328.2 593.5,334.2 603.2,323.0 593.6,343.4 620.6,343.4 637.4,333.7 643.9,340.5 585.7,361.2 604.6,341.6 633.1,325.0 613.6,351.2 624.3,327.5 610.2,346.3 596.9,357.8 603.6,338.8 654.2,313.6 643.2,336.2 597.1,321.9 624.4,325.1 627.9,329.1 665.6,317.6 641.9,351.7 590.9,345.8 607.8,347.9 581.9,311.2 628.2,351.0 625.0,319.4 603.1,342.0 601.5,334.1 607.6,333.8 648.6,343.1 617.0,341.9 608.3,330.3 583.0,325.7 641.7,338.6 598.8,362.6 629.2,324.3 593.4,322.3 636.2,340.1 620.9,335.6 625.7,356.1 635.4,340.8 673.5,319.9 634.6,342.7 567.7,348.0 670.1,332.8 594.9,325.6 599.1,337.6 653.0,316.4 635.5,343.4 634.7,323.9 593.0,326.7 590.1,350.2 574.5,340.2 603.6,340.5 584.6,362.4 637.3,341.6 604.1,326.8 631.9,346.8 637.3,335.2 606.7,339.0 645.5,340.9 568.2,333.3 591.5,333.8 615.6,320.3 616.0,353.8 601.5,338.5 645.3,328.5 607.5,335.4 630.8,321.0 652.6,342.8 625.5,344.0 635.0,319.8 582.3,323.0 603.5,342.9 610.3,319.8 660.7,339.4 646.8,321.7 619.3,333.6 646.9,312.9 640.3,353.7 649.2,310.1 639.1,349.6 629.5,315.0 578.0,348.7 648.4,327.5 630.8,328.0 620.4,326.1 620.4,322.6 613.1,336.5 573.6,336.5 605.1,313.6 660.5,315.3 598.4,333.9 613.5,342.0 592.7,359.5 612.9,349.9 604.8,323.4 604.6,335.9 610.8,335.1 596.7,350.4 600.6,337.8 624.8,319.0 610.6,337.5 590.7,323.8 592.0,343.9 616.8,352.1 609.2,332.1 584.0,326.0 616.1,341.9 631.1,321.7 601.4,322.3 616.2,316.7 612.9,335.4 566.2,336.0 572.1,361.8 607.1,339.3 620.4,326.6 663.7,318.8 648.0,324.2 641.8,324.1 596.9,355.3 633.1,348.8 608.6,341.1 673.8,321.9 597.4,333.3 641.7,333.4 614.4,324.9 576.0,334.4 595.2,340.1 585.5,328.1 599.3,324.8 580.5,328.6 660.8,337.0 603.6,325.5 606.0,361.1 677.7,313.4 627.0,328.5 645.1,314.3 575.5,340.3 635.2,320.1 668.1,322.9 586.6,326.1 599.6,330.8 614.6,337.2 604.2,340.0 662.1,320.5 582.0,330.1 612.7,341.6 645.4,340.7 625.5,332.0 651.4,334.0 668.5,319.0 632.7,318.0 670.3,316.6 616.2,344.4 603.5,339.1 597.0,313.0 589.6,335.3 610.2,314.8 608.3,335.6 608.3,327.6 649.5,342.6 601.4,343.0 580.1,339.3 644.0,328.5 619.3,355.3 598.1,324.0 657.4,315.4 585.3,355.4 614.7,333.1 602.3,329.7 588.7,325.3 609.8,316.7 648.8,343.4 650.6,346.5 604.3,351.8 678.4,311.3 599.2,334.3 659.2,323.3 640.9,332.6 626.3,334.8 620.8,338.5 596.4,343.1 661.7,329.5 599.1,330.7 599.8,349.7 612.7,331.3 611.1,348.6 663.3,324.1 616.8,346.2 587.9,349.4 620.1,338.4 589.9,326.5 636.1,335.5 660.3,312.0 648.5,316.2 639.6,350.7 677.5,324.5 585.2,360.6 643.8,348.9 619.9,327.4 576.1,349.3 626.4,327.7 594.2,348.0 637.7,338.7 620.1,332.8 572.8,347.8 618.0,342.9 602.8,338.6 663.6,319.3 580.1,351.3 607.6,321.5 580.5,357.9 645.6,329.2 574.2,358.4 639.2,349.9 610.6,343.9 661.8,319.4 581.4,352.4 613.4,342.8 636.5,330.9 573.4,347.8 581.7,331.1 621.5,349.1 647.6,317.8 616.1,346.9 618.6,348.2 637.6,334.6 598.7,351.3 616.9,318.9 607.8,339.5 610.8,354.2 608.0,325.2 634.3,338.6 638.7,352.1 621.6,347.0 613.9,340.0 587.1,350.6 613.4,341.6 652.0,326.7 606.4,322.7 641.4,349.4 576.2,356.1 579.8,337.9 625.0,347.3 579.1,316.7 678.8,324.1 668.6,314.1 612.8,322.2 633.4,328.1 630.6,359.0 672.1,313.7 620.6,334.9 597.4,322.7 610.2,340.6 617.7,331.8 581.4,336.3 642.8,326.0 616.6,352.6 593.1,346.0 636.7,339.9 596.0,336.1 628.7,339.9 605.2,336.7 630.8,329.8 618.7,348.8 638.4,328.6 647.4,335.3 671.9,304.8 608.3,348.6 578.2,325.9 626.4,348.7 591.0,335.6 626.3,343.4 642.3,328.9 609.4,346.7 672.7,323.2 586.3,337.3 618.7,335.3 629.0,327.6 625.2,337.2 623.4,329.3 630.3,318.4 610.8,344.6 639.4,323.1 648.3,303.0 617.5,311.8 618.3,331.6 615.1,325.3 595.9,355.4 634.7,333.0 635.2,335.5 625.7,330.0 635.8,331.8 616.2,322.0 591.2,349.3 611.5,338.3 603.9,326.8 622.8,344.5 599.4,340.9 615.4,320.0 669.1,312.8 666.2,322.8 642.0,338.6 620.1,333.3 597.0,351.4 633.7,348.3 648.1,336.1 600.6,345.5 613.6,354.9 607.3,310.3 629.7,341.6 639.7,333.1 581.8,343.9 605.7,349.8 651.3,323.6 635.7,314.5 611.7,355.3 618.4,319.5 580.6,326.0 616.2,334.7 641.6,337.2 642.6,322.4 627.2,329.3 644.7,340.5 578.0,359.8 612.3,327.4 616.8,343.7 608.3,354.2 617.6,319.4 630.5,330.3 624.0,341.6 617.3,323.3 622.3,355.0 571.3,337.6 604.3,317.7 609.1,342.7 630.7,336.4 620.5,339.3 593.7,348.7 645.1,325.3 589.4,329.8 646.6,325.9 650.3,326.0 579.8,334.7 582.6,334.8 637.0,353.9 640.5,351.0 667.0,311.5 636.0,355.4 622.6,321.6 629.0,321.2 649.3,344.9 574.2,347.9 596.6,347.2 669.2,313.5 628.8,352.1 637.5,324.7 613.4,341.4 578.3,352.3 596.5,325.0 604.3,352.4 596.3,333.0 617.6,344.2 593.5,331.4 618.0,335.0 603.8,322.2 655.7,320.3 595.8,353.2 598.9,332.8 638.4,334.8 602.0,311.8 642.4,316.7 647.8,334.3 631.1,334.3 580.0,322.9 629.7,348.1 642.8,329.5 650.5,323.3 587.7,348.9 610.9,354.1 617.0,338.6 637.7,326.2 658.0,329.6 644.8,340.9 676.7,310.0 621.9,349.6 634.1,342.2 631.4,320.1 641.3,344.5 596.1,323.9 589.2,339.2 660.3,319.0 660.3,321.4 626.4,344.4 607.7,355.9 605.5,330.8 611.1,315.9 614.0,317.9 583.3,363.4 609.0,323.2 618.4,341.2 633.7,357.8 643.8,322.6 613.4,341.1 599.0,353.0 616.8,350.9 601.6,334.8 581.5,345.1 657.1,325.0 634.0,327.9 657.7,305.0 576.0,354.9 590.4,343.0 677.7,314.0 621.0,330.9 601.0,328.3 632.6,320.6 592.0,312.3 605.7,339.5 609.3,347.4 641.6,326.8 567.3,351.6 667.6,316.5 638.7,315.0 632.8,328.3 621.6,328.5 573.0,352.6 652.5,326.7 589.9,342.4 629.8,352.3 575.9,341.3 582.4,350.3 638.5,339.1 622.9,328.8 627.3,317.2 593.0,332.3 585.0,328.8 595.8,345.3 628.2,346.8 594.1,351.1 589.9,336.7 588.0,353.7 604.6,313.9 639.0,335.7 633.3,354.1 575.8,341.9 634.9,339.2 621.0,317.9 675.5,315.3 582.1,367.9 613.9,323.9 608.7,344.6 605.1,347.3 611.9,341.4 630.4,341.8 602.7,360.7 597.2,346.6 625.9,327.6 625.5,327.9 597.1,346.1 601.5,352.3 576.8,331.1 634.0,350.3 573.4,327.8 609.2,331.5 609.0,325.0 615.3,322.7 590.2,345.8 655.9,329.4 631.5,350.0 656.4,336.4 599.0,312.5 639.6,355.8 578.1,331.1 657.6,319.0 654.3,324.5 637.5,341.3 623.7,318.5 624.9,330.8 624.0,353.5 614.0,335.9 612.5,331.6 614.8,347.1 607.8,333.5 601.7,356.7 571.1,348.0 612.3,348.3 589.5,355.7 597.5,354.1 609.0,329.9 635.7,333.9 623.8,330.9 570.0,344.8 618.9,329.1 582.3,339.2 667.2,310.7 610.4,331.5 618.2,365.4 655.5,322.1 648.1,322.6 635.0,331.4 591.7,341.2 624.7,323.5 615.8,334.5 645.1,320.1 588.5,349.3 605.8,339.6 610.1,356.0 584.1,331.1 598.9,322.3 626.9,345.9 644.6,335.7 616.7,333.4 620.1,327.7 581.5,331.3 654.3,333.2 646.0,322.1 571.8,354.5 587.1,342.9 639.6,340.0 602.8,353.0 647.8,318.9 649.7,315.2 616.7,336.9 590.0,329.3 601.0,347.0 613.9,328.5 636.7,328.9 584.2,333.7 608.1,359.1 617.8,337.9 610.6,332.7 578.4,344.0 609.2,336.1 573.3,355.6 636.9,322.7 645.5,324.9 634.9,322.4 598.4,342.3 618.9,337.0 623.0,334.5 649.6,325.8 672.9,324.8 652.3,346.5 607.9,337.2 643.8,326.8 576.1,336.0 628.5,320.1 592.9,344.5 602.2,337.6 638.7,335.1 642.6,315.7 671.2,322.0 633.8,330.2 590.6,349.5 603.9,330.7 577.1,337.6 614.8,321.4 648.8,336.8 593.9,335.0 666.9,315.0 617.8,340.0 641.5,323.8 603.6,327.8 604.0,334.3 638.2,334.3 639.4,350.4 673.6,320.6 586.8,336.8 611.4,354.5 618.9,313.6 586.0,335.5 609.9,334.5 653.9,327.2 610.1,321.3 597.3,341.6 644.8,332.0 602.4,326.9 665.5,321.2 601.7,319.9 637.3,328.3 647.4,319.4 640.4,331.5 630.1,347.9 613.1,328.6 615.5,356.5 605.8,344.0 638.1,334.3 602.0,354.2 613.8,328.5 598.1,339.5 605.1,343.5 621.8,356.0 627.4,322.7 648.5,324.1 607.7,351.8 607.2,320.6 600.4,341.6 622.7,335.8 606.0,358.5 599.7,344.1 650.5,338.5 597.9,354.1 642.5,323.3 589.6,322.3 627.2,358.0 625.3,330.3 617.3,362.1 632.0,320.9 592.4,358.4 623.4,343.0 664.6,327.5 617.9,325.0 605.0,326.1 634.9,346.7 585.6,342.4 677.5,313.7 586.9,331.8 638.9,341.2 675.2,317.5 633.6,336.6 633.2,350.6 591.3,348.1 617.3,331.1 617.6,352.9 623.8,327.1 612.2,341.3 576.1,346.6 585.6,320.9 594.5,353.2 639.6,342.6 625.5,338.9 633.4,322.1 610.8,320.7 583.8,340.8 592.5,332.2 638.2,337.4 649.3,327.1 657.4,328.6 603.3,328.4 608.4,347.1 623.2,319.1 633.0,320.5 662.1,332.4 666.0,327.6 619.9,336.4 666.2,320.4 649.8,337.3 606.5,332.1 645.5,330.7 581.5,346.8 638.7,322.4 624.8,338.4 606.1,325.4 643.9,321.3 608.7,315.2 672.9,323.2 603.6,360.1 660.5,336.1 609.4,330.8 645.8,348.4 677.6,333.1 653.9,320.8 640.2,341.8 613.0,320.6 672.9,320.1 653.1,336.2 598.4,354.9 620.5,341.5 599.1,327.6 579.3,320.9 591.7,353.2 589.8,345.0 630.5,355.3 607.1,335.7 641.1,321.8 602.7,316.4 624.8,326.7 591.9,349.1 625.2,338.2 587.6,347.4 676.3,322.5 671.5,326.1 626.9,318.6 573.2,343.1 621.8,321.5 628.0,352.1 600.6,331.5 610.5,330.0 622.0,344.3 632.9,357.9 646.3,317.3 676.9,322.0 617.0,322.3 626.6,328.4 584.7,326.5 641.2,325.2 674.2,330.5 664.0,317.5 634.9,353.7 676.0,314.8 615.6,333.7 595.9,346.1 606.8,321.3 644.9,325.5 653.5,337.9 580.9,314.2 620.5,333.9 605.5,339.6 667.4,325.9 614.6,334.9 616.4,328.2 609.4,319.4 594.5,327.2 597.8,358.5 600.7,348.0 658.0,327.4 654.3,321.4 623.4,333.4 610.9,350.5 614.3,321.5 582.4,329.9 593.1,335.4 616.5,320.5 653.2,325.3 642.2,322.1 573.3,368.7 630.8,346.6 650.0,325.5 607.1,327.4 658.1,315.1 571.5,359.1 585.5,342.3 602.6,365.8 606.4,321.8 590.7,352.5 566.8,347.8 588.6,329.4 643.5,306.6 613.3,334.2 625.9,341.9 616.1,324.9 645.9,319.2 631.0,317.0 634.1,322.5 585.9,357.5 631.5,322.9 573.6,349.8 632.8,331.2 592.6,327.7 577.5,327.1 610.9,334.6 643.1,331.4 621.9,327.3 620.4,339.9 650.6,316.8 662.4,332.2 624.1,327.0 595.0,313.4 618.5,322.2 642.2,335.5 653.6,330.2 589.9,356.6 650.0,328.6 606.4,360.1 594.8,341.1 611.0,325.7 593.2,354.2 584.9,333.2 612.8,324.6 605.2,321.6 618.3,328.9 622.8,327.3 615.5,344.7 653.2,320.2 618.3,318.0 635.8,329.9 618.1,319.5 601.0,342.3 586.8,355.9 593.3,323.6 580.7,333.7 606.7,323.1 612.2,339.9 604.6,328.8 657.6,331.9 635.2,327.7 636.1,346.0 586.9,340.5 601.5,326.2 636.7,319.6 671.9,299.6 621.6,342.0 589.6,335.7 629.8,333.9 592.5,346.2 619.0,315.7 637.2,345.0 599.2,325.5 667.2,330.6 573.0,356.6 613.7,339.0 573.5,343.0 593.1,342.0 635.0,317.8 605.3,344.0 585.0,332.6 657.4,329.3 586.6,350.7 606.6,336.9 634.8,326.8 617.0,356.5 639.1,316.3 618.8,344.8 672.6,321.0 608.7,340.9 673.1,315.8 640.4,336.9 616.4,336.0 675.6,334.0 658.3,324.4 604.6,322.7 643.9,332.5 630.8,329.7 659.5,325.4 575.8,322.4 639.1,354.5 664.7,324.2 638.8,337.8 647.5,344.7 664.3,311.1 591.7,323.7 592.1,342.9 622.6,333.7 660.3,315.1 582.9,339.1 610.3,320.6 645.4,331.7 608.9,332.8 642.5,337.5 672.3,318.0 580.4,332.3 582.4,332.9 570.0,355.7 635.4,320.3 604.4,347.5 600.2,352.7 595.7,332.0 614.5,339.8 613.9,347.5 655.3,324.2 589.9,342.6 607.5,332.0 599.7,324.4 596.3,334.8 599.0,338.4 677.6,316.4 592.5,347.5 655.5,320.0 630.1,335.1 575.3,329.7 639.0,321.4 642.8,330.4 670.4,311.5 598.9,325.3 630.8,322.4 617.3,346.3 671.4,314.6 673.9,323.2 605.9,346.6 603.5,355.6 596.6,333.4 615.0,329.0 659.1,323.7 599.8,328.5 661.2,335.6 597.5,341.1 623.2,319.4 610.2,356.8 647.8,316.6 589.0,338.3 600.8,324.4 620.8,324.6 592.1,350.0 652.9,331.5 595.1,326.8 650.8,344.0 591.5,324.7 627.3,330.1 599.3,352.6 615.5,345.8 643.9,333.4 653.0,330.7 637.0,350.2 643.5,316.5 638.5,338.4 602.4,321.3 598.4,368.3 594.2,327.0 657.4,310.4 661.5,316.4 598.0,335.0 636.1,341.5 606.4,337.8 642.6,321.1 642.4,327.4 605.3,344.6 566.0,343.7 587.3,355.8 604.0,354.4 606.5,350.7 661.9,336.6 612.8,326.6 582.6,335.2 628.1,350.6 591.1,329.7 594.4,333.3 612.5,331.5 604.4,362.2 594.8,320.1 635.0,330.0 592.0,341.1 610.4,324.5 579.4,327.6 599.1,355.6 609.3,335.4 627.0,322.7 620.8,343.0 658.0,318.6 627.2,331.5 604.0,357.6 641.0,320.5 640.5,328.5 617.5,335.0 568.2,356.2 678.8,310.3 668.4,322.5 586.9,346.3 650.4,328.4 671.2,315.8 635.1,320.7 582.7,322.8 617.1,341.0 635.5,321.1 673.0,316.1 604.3,333.5 671.9,314.2 586.6,349.0 619.4,336.1 608.6,346.4 651.9,328.5 592.7,332.0 656.0,322.3 593.6,350.6 637.4,331.5 591.0,361.1 579.4,360.7 575.9,335.2 666.9,328.6 623.8,334.1 604.9,339.5 623.7,341.9 596.7,349.6 660.9,341.0 633.0,323.2 592.0,341.1 643.2,327.5 592.9,322.5 652.9,332.4 606.8,324.5 649.2,341.4 628.5,324.5 587.1,345.9 591.0,350.9 592.1,352.3 611.4,311.2 594.9,356.5 586.4,328.2 600.0,344.6 608.7,353.1 590.7,321.5 619.0,348.1 611.4,337.0 627.5,333.1 622.3,345.7 605.8,334.3 625.4,331.0 638.3,316.9 580.1,335.0 601.3,335.9 649.2,314.7 620.8,333.4 608.5,319.3 639.4,330.9 641.1,315.2 595.0,345.4 607.7,331.1 583.4,367.7 615.2,329.0 603.0,348.7 621.9,318.7 595.5,348.5 587.0,327.8 611.2,338.3 610.2,340.0 609.3,333.7 610.3,319.5 626.9,355.8 617.3,333.5 570.8,328.0 652.8,340.3 574.0,339.6 650.1,323.3 593.3,325.4 620.4,317.1 615.2,324.3 672.3,315.0 594.3,329.8 643.3,334.2 610.8,325.4 591.5,326.6 657.3,328.9 601.0,316.3 598.3,334.1 607.1,342.1 640.7,358.9 588.2,341.3 660.8,314.0 638.6,323.5 618.4,349.2 579.6,344.7 657.1,314.1 594.5,320.6 651.1,327.8 631.3,339.3 638.2,319.7 583.5,349.8 586.1,353.0 631.1,345.7 674.5,329.8 612.7,316.6 646.7,338.7 584.1,341.2 612.0,325.2 601.5,321.2 590.4,326.5 633.5,330.4 573.1,333.8 600.5,345.4 613.2,349.8 598.8,326.4 594.4,350.0 611.2,335.1 659.5,324.3 637.6,317.1 627.3,362.6 607.8,330.1 610.7,332.1 642.0,345.2 608.2,345.4 596.6,338.6 598.7,360.3 602.8,336.7 637.6,326.4 585.4,334.5 582.5,340.1 658.1,331.3 589.0,333.3 596.9,338.1 613.0,322.4 603.0,337.9 591.0,342.7 620.2,325.8 641.9,335.6 627.0,335.1 568.5,327.5 596.6,349.9 597.4,332.4 610.5,327.6 602.2,334.3 586.8,346.5 602.0,326.5 584.8,341.1 601.6,361.2 610.1,332.9 596.5,323.5 599.2,331.6 594.8,330.5 663.6,317.1 598.1,355.1 577.4,359.6 592.3,341.7 575.2,357.0 607.9,347.6 588.9,341.3 588.3,326.8 611.3,351.5 613.8,339.3 641.6,323.1 603.5,325.5 640.9,345.1 616.4,343.6 641.0,315.0 622.8,324.8 618.3,350.2 607.4,330.0 605.4,358.9 636.1,324.0 592.7,353.6 611.2,352.3 609.9,329.1 634.2,339.1 588.6,333.2 643.8,332.7 656.5,344.8 605.8,339.3 667.9,319.4 646.5,319.0 598.1,339.2 612.3,341.5 597.7,355.7 601.0,327.7 613.8,340.2 645.1,318.5 592.3,357.1 654.0,321.2 628.1,331.5 628.6,333.7 610.4,339.6 584.6,350.5 640.0,333.4 665.4,320.5 618.8,330.2 611.1,321.9 625.2,348.0 604.0,348.6 598.0,334.6 613.2,340.1 638.9,328.8 620.4,356.4 637.3,322.8 612.5,344.0 613.2,349.1 636.5,353.0 591.0,344.8 583.5,336.8 597.0,335.0 619.5,332.3 634.3,328.3 604.0,353.6 613.3,340.2 595.5,325.4 641.4,329.7 591.1,344.2 623.9,341.2 657.5,319.1 629.1,327.5 608.1,332.7 634.7,330.2 607.9,350.4 647.4,336.6 608.4,352.6 586.4,337.6 631.9,325.9 585.6,325.6 628.7,332.1 614.9,319.4 618.3,317.9 577.3,345.2 582.0,327.3 616.2,330.2 636.5,322.1 597.5,356.9 626.8,324.9 571.5,357.7 676.2,312.8 591.5,322.4 619.6,334.0 628.7,347.0 616.4,330.5 625.5,333.5 602.7,347.8 595.5,327.5 629.2,343.4 644.0,328.9 603.9,354.2 600.0,356.5 649.2,335.0 608.6,353.5 578.8,334.5 607.4,346.8 612.7,319.0 574.5,334.1 599.2,335.2 610.2,317.7 605.6,332.9 622.9,326.1 594.9,324.7 589.2,355.0 600.2,342.2 644.7,319.4 674.9,318.7 633.6,315.8 606.1,333.2 637.8,356.2 604.6,333.3 629.2,313.4 669.7,327.4 631.2,328.6 587.3,342.0 585.5,343.2 606.8,356.1 586.4,325.4 612.5,339.7 590.7,356.1 629.6,345.1 661.9,315.1 644.6,314.4 599.1,362.6 573.8,324.7 636.9,316.9 604.3,330.3 607.9,345.9 641.8,340.3 605.3,326.9 592.3,332.7 656.4,334.4 585.5,345.2 635.0,344.5 663.4,329.9 600.0,333.1 644.7,338.5 606.2,338.0 652.3,339.5 657.4,316.9 596.0,331.6 603.5,335.9 638.3,319.1 658.0,333.8 625.2,329.1 652.3,322.5 587.7,330.6 656.9,315.3 643.5,322.7 637.3,332.0 581.9,351.2 635.7,323.7 596.5,324.2 648.4,318.2 666.8,321.8 611.0,344.3 591.4,321.7 637.9,347.5 644.8,328.4 655.8,314.1 606.7,356.4 643.5,333.0 616.3,341.7 608.6,348.6 650.6,343.7 672.4,312.6 653.7,316.4 603.8,325.2 621.4,319.9 614.3,367.3 594.7,339.4 604.9,324.0 605.5,321.3 584.6,346.9 615.1,305.0 606.4,357.7 581.5,344.7 657.8,300.5 606.0,319.2 608.2,338.9 611.7,355.6 614.7,356.8 611.3,349.1 618.6,329.9 625.2,317.8 627.4,352.4 576.9,323.6 627.9,325.0 626.7,350.9 588.8,333.6 608.9,335.1 628.0,333.0 639.3,325.0 653.0,338.9 603.6,317.8 606.8,330.9 629.9,319.2 598.5,359.1 644.9,346.3 625.0,351.7 601.1,336.8 607.8,349.2 602.1,347.6 631.0,349.9 596.7,346.9 611.4,330.7 603.4,346.6 642.6,323.1 665.6,329.4 603.5,352.8 659.0,327.5 676.4,316.0 642.7,330.9 620.6,329.8 627.3,341.8 611.8,326.6 625.6,327.2 570.6,351.7 585.4,329.6 606.9,329.3 592.3,338.4 613.8,334.1 629.2,319.8 624.9,326.6 620.8,335.6 602.2,335.8 626.9,318.5 665.1,321.6 612.4,321.8 650.0,344.1 586.8,319.3 621.3,329.0 599.1,325.8 596.2,330.5 595.4,319.6 591.9,327.2 607.2,326.2 594.0,315.7 630.4,334.4 624.1,321.0 577.8,350.4 636.7,327.2 577.1,329.5 582.8,338.2 583.4,346.8 613.3,329.7 623.8,318.0 636.3,325.8 586.6,334.7 606.1,341.0 615.7,344.4 663.2,320.5 601.0,356.9 637.9,350.3 616.0,316.0 564.8,339.7 636.2,316.8 652.1,320.5 645.6,341.1 633.0,325.2 655.7,322.0 628.3,338.1 632.3,348.3 642.0,352.6 589.5,355.2 616.0,350.4 604.8,342.1 586.1,326.9 604.2,347.4 591.3,343.3 602.7,318.4 635.5,335.2 569.0,335.4 648.7,331.3 589.1,348.9 639.0,314.2 629.6,339.5 622.4,338.0 592.3,327.9 603.1,337.4 617.3,332.4 678.6,314.4 581.1,329.2 645.9,347.3 606.9,319.1 654.2,322.2 621.8,337.6 633.0,332.3 579.0,358.7 625.6,345.9 619.9,335.8 587.5,359.2 645.5,343.3 622.8,331.7 643.8,345.7 597.7,336.1 611.6,349.7 618.9,338.0 612.5,319.9 639.6,330.3 586.6,333.9 641.4,348.1 641.8,320.0 574.1,361.7 678.1,329.7 595.6,331.6 606.5,326.2 613.9,339.8 621.8,346.9 641.3,351.5 611.4,346.9 624.1,346.9 636.3,320.6 612.9,330.7 602.1,354.8 639.1,343.7 626.3,347.3 594.1,332.2 624.7,338.4 615.5,357.6 610.8,335.9 667.7,324.8 662.9,324.1 641.6,342.7 602.0,333.5 639.4,346.4 619.7,341.7 646.7,325.4 640.2,323.0 573.1,325.1 662.0,315.0 617.6,324.7 610.1,320.7 608.9,339.6 611.9,333.1 665.2,311.7 591.1,332.5 626.8,322.3 640.7,329.5 652.7,318.1 606.4,338.1 621.6,347.6 617.7,331.2 604.9,325.5 585.7,338.2 615.0,323.6 584.4,338.1 598.8,361.6 573.4,354.1 616.2,360.0 575.2,326.5 648.0,322.0 585.8,356.7 607.1,355.2 658.8,329.2 645.3,345.9 611.0,326.3 608.6,363.2 591.2,335.9 605.4,326.2 648.4,344.5 620.0,354.4 629.8,327.1 645.9,345.0 633.4,332.4 588.2,323.8 662.4,325.1 616.2,332.1 612.2,321.4 618.5,337.5 655.7,329.1 601.2,324.0 636.6,339.6 672.7,322.7 654.9,318.0 611.2,345.7 610.5,349.7 566.9,330.8 617.5,346.6 627.8,335.7 595.4,330.6 596.8,337.6 574.8,363.6 636.0,317.9 575.7,334.1 578.7,343.0 609.4,324.8 591.6,336.0 604.9,352.8 598.8,361.0 611.8,324.2 604.8,337.8 601.1,352.1 612.9,357.2 648.5,316.7 667.4,310.8 594.8,341.5 636.3,335.5 589.1,344.3 587.5,327.6 588.3,334.3 604.2,336.5 623.1,339.5 600.9,346.0 574.7,339.8 623.1,340.1 590.2,343.4 636.1,312.9 598.6,329.4 604.7,336.9 648.5,346.3 608.2,337.0 628.2,335.0 624.4,326.4 590.9,359.9 593.1,328.0 647.4,326.7 622.0,330.4 666.3,320.4 631.9,319.8 575.4,338.6 598.5,361.0 603.3,332.6 633.2,317.9 588.2,334.5 630.0,350.0 608.5,339.8 594.8,334.9 620.7,319.0 582.4,339.6 673.5,323.7 598.9,355.3 643.0,321.6 604.7,359.1 675.0,312.1 601.6,322.4 651.1,344.0 570.6,346.2 603.7,341.2 577.4,356.8 624.3,356.2 637.1,338.7 592.9,342.8 588.2,324.2 583.6,355.8 597.9,331.0 671.4,318.1 620.3,325.7 638.4,316.4 648.1,338.1 620.1,345.6 588.1,355.7 602.5,348.8 648.9,326.2 642.7,336.4 620.0,321.6 644.3,349.5 648.9,328.0 648.7,314.5 616.6,321.3 587.5,319.7 603.1,329.2 607.7,326.8 590.1,333.3 638.6,332.0 626.9,334.7 645.1,332.8 672.2,330.4 587.3,334.2 615.0,331.1 644.6,335.2 563.9,357.5 616.2,336.5 628.9,322.2 628.9,327.9 654.8,341.2 618.1,328.1 620.8,336.6 567.8,352.5 622.2,336.1 597.8,354.5 610.7,327.3 664.8,328.6 641.8,329.9 628.3,343.0 613.1,328.3 607.6,355.5 601.6,347.6 580.5,348.9 610.7,346.7 619.3,336.2 590.8,346.8 625.9,330.0 605.2,348.0 655.9,337.5 615.8,326.4 631.2,337.5 663.7,313.5 592.5,325.9 594.6,349.9 614.2,341.6 618.1,351.4 665.0,313.3 600.3,331.4 599.8,349.9 664.6,314.4 634.8,344.4 675.7,313.4 620.2,341.0 606.2,343.8 593.6,330.2 609.4,338.5 618.8,328.6 620.7,317.0 579.6,347.3 619.3,338.3 641.5,331.1 612.0,326.6 589.5,350.1 614.5,348.8 667.5,313.0 627.6,318.6 612.9,318.7 592.6,333.8 636.0,315.6 582.2,334.3 620.3,319.2 616.7,318.7 637.6,346.4 649.7,328.2 622.9,328.3 622.6,332.9 636.5,335.8 648.9,332.2 632.7,337.5 633.6,353.0 652.6,315.3 638.9,316.2 608.8,327.2 622.1,338.9 606.8,324.9 588.2,331.7 577.3,327.1 588.4,329.2 621.6,353.3 665.0,320.6 621.6,333.4 603.8,325.3 608.5,339.2 633.0,323.8 592.4,342.2 645.2,316.6 606.3,338.0 604.0,340.5 643.6,334.7 615.7,333.3 617.2,340.6 652.0,342.2 606.7,360.0 590.1,336.0 664.2,323.8 648.1,315.5 650.8,326.7 609.5,327.8 607.2,344.8 618.9,344.3 651.4,347.0 670.2,320.9 644.7,347.8 667.8,316.8 676.8,315.0 606.9,332.9 607.8,337.4 642.1,339.9 603.3,342.8 621.5,336.5 613.9,345.9 582.6,326.2 630.6,320.6 623.1,354.2 582.3,327.4 658.3,322.4 603.2,347.0 627.1,346.1 604.9,326.6 583.0,336.1 587.8,346.6 605.0,325.2 611.2,351.9 629.5,318.5 592.2,359.8 642.9,331.0 650.9,329.0 654.1,329.6 641.7,345.7 637.9,314.0 582.1,358.1 651.3,349.8 601.9,318.1 643.4,314.5 572.6,329.0 650.3,345.6 613.9,349.7 599.8,333.7 621.5,330.1 612.5,343.9 590.8,324.5 591.3,350.8 666.5,322.3 617.3,325.0 580.8,347.7 591.3,341.7 641.8,347.4 610.6,325.4 632.5,327.6 642.7,337.1 625.6,327.5 583.7,325.0 580.1,339.0 578.4,335.5 593.3,345.7 628.6,326.3 604.2,329.6 625.0,345.0 589.8,354.9 676.4,320.8 640.0,334.8 618.1,342.3 630.7,342.6 603.6,335.1 605.5,342.5 615.6,323.2 588.1,336.8 587.1,338.8 592.0,337.0 623.0,343.9 652.4,335.7 658.8,334.2 622.6,323.8 613.0,327.3 628.7,314.6 648.6,347.9 626.9,353.7 644.9,315.2 639.3,363.9 610.7,344.3 606.9,322.3 642.6,324.5 616.0,354.9 606.7,331.8 637.4,350.7 605.3,331.6 642.1,346.6 609.5,326.6 590.6,342.3 616.6,323.0 592.8,323.8 632.5,320.7 628.3,339.5 595.3,337.5 592.3,323.1 585.6,367.3 610.9,359.1 641.8,326.4 584.4,342.4 622.6,335.4 672.0,317.3 614.4,325.0 618.7,347.6 655.9,325.8 648.3,330.1 617.4,329.0 597.5,339.2 604.1,339.5 644.6,327.4 607.1,334.1 617.4,340.6 677.3,319.3 621.9,335.7 666.7,322.3 677.4,311.0 639.8,329.6 647.4,332.2 610.5,325.9 649.7,323.9 594.6,343.8 571.0,356.6 600.5,350.3 623.9,323.3 619.2,323.6 633.4,351.3 601.3,316.8 639.9,350.8 600.8,324.7 634.9,317.1 607.8,324.6 673.6,315.2 636.7,332.6 607.9,343.6 641.1,329.9 568.3,353.8 676.0,313.5 594.9,346.0 596.5,328.6 607.8,321.4 589.7,330.2 593.3,332.5 658.1,324.9 617.5,336.3 598.3,354.1 591.2,327.7 633.1,329.7 640.6,342.0 611.7,333.6 616.5,322.2 654.2,321.3 641.0,315.6 650.2,325.2 611.4,342.3 650.5,337.6 634.3,339.7 647.2,345.1 666.6,342.1 613.6,324.8 589.9,334.4 577.4,354.3 584.3,340.1 629.3,325.6 625.6,343.0 617.3,353.8 621.8,349.7 574.4,329.2 595.0,345.2 606.9,319.7 650.3,325.9 580.9,347.7 596.7,357.2 602.6,351.4 595.6,329.4 593.0,317.2 641.6,326.9 586.7,354.3 592.8,363.0 602.0,323.2 639.6,347.2 636.2,353.0 637.2,321.9 657.1,322.7 650.5,314.5 614.6,334.1 581.5,362.1 569.3,337.4 611.1,337.9 594.8,331.3 607.1,333.8 585.8,340.8 584.2,347.6 588.5,331.3 610.1,320.0 624.7,329.1 644.9,342.6 588.1,325.2 646.6,319.4 596.5,337.6 640.1,337.6 593.5,334.3 606.6,338.4 586.2,329.2 604.3,346.2 578.7,335.8 607.5,345.6 601.9,318.0 610.2,325.4 614.3,338.7 648.7,334.2 593.5,358.1 668.9,315.8 608.7,355.6 653.1,335.7 634.4,325.7 649.2,314.9 588.1,334.2 641.3,328.1 646.2,332.1 605.7,333.7 611.5,335.4 625.0,333.3 626.4,320.2 640.1,333.4 626.7,333.2 644.3,326.3 651.7,327.7 629.4,334.2 596.6,340.3 601.8,339.7 585.4,330.1 604.5,323.4 626.1,343.4 629.5,332.8 570.1,336.8 626.1,347.7 647.4,316.4 640.2,351.7 636.1,345.3 641.3,331.9 570.6,355.6 620.5,328.6 625.5,342.6 610.6,354.5 632.2,345.8 605.3,322.3 639.0,326.7 600.1,335.3 580.3,325.6 619.1,323.2 661.4,322.8 645.6,324.4 615.3,323.3 642.2,314.0 621.7,342.5 580.3,334.9 608.5,327.0 584.4,326.3 597.2,343.2 604.0,347.6 602.5,341.2 584.2,336.1 603.1,340.2 605.5,346.2 576.4,338.4 585.1,349.7 620.8,348.0 605.4,341.9 573.2,329.1 634.1,339.0 651.6,322.5 635.3,341.4 639.1,326.4 587.7,343.4 652.4,322.4 654.2,318.7 676.4,306.8 673.2,316.9 673.7,314.5 670.0,309.1 675.3,312.6 671.6,313.5 667.4,311.9 666.3,308.4 670.2,311.4 671.5,312.2 670.9,315.2 671.2,314.5 668.3,315.1 670.9,310.2 675.6,313.7 677.6,312.2 673.6,318.0 665.3,314.3 672.8,315.2 672.0,311.8 674.0,316.4 671.6,315.2 668.1,314.6 676.9,310.5 667.1,319.0 674.1,314.9 673.3,309.2 669.0,313.5 672.5,318.1 675.1,318.0 676.2,313.9 667.5,308.3 674.4,318.1 674.7,318.0 667.1,317.0 671.5,315.6 670.7,311.9 673.7,320.2 675.3,314.1 679.7,312.7 674.2,313.4 675.7,309.4 673.3,315.3 669.1,308.1 675.7,315.2 669.8,312.4 676.7,315.5 673.7,318.3 674.5,307.5 671.4,315.7 671.3,311.9 668.1,315.4 674.5,316.3 669.1,319.2 670.6,313.3 668.9,312.3 674.1,315.1 672.9,313.3 668.5,314.8 670.9,311.6 675.0,314.9 668.9,308.6 671.2,313.4 670.2,313.9 673.7,309.8 666.7,316.6 675.3,310.7 668.2,311.1 674.2,313.1 667.8,315.4 669.4,315.8 670.5,314.7 669.3,311.7 673.1,312.2 674.0,311.7 672.4,312.1 674.3,308.9 671.0,313.4 668.3,309.5 671.3,320.0 669.2,303.7 674.9,314.4 671.9,315.9 671.1,313.2 673.3,317.2 673.6,315.4 673.5,315.2 674.7,311.7 666.7,312.3 671.3,314.7 676.5,311.1 673.9,311.0 675.1,309.0 675.5,314.0 675.6,308.5 672.7,314.6 674.7,314.9 676.3,315.6 667.2,311.0 661.8,311.3 675.9,313.0 673.1,315.2 676.2,312.4 672.8,313.1 671.4,312.0 673.8,310.8 672.3,311.9 672.9,316.8 674.2,315.2 671.0,310.2 669.1,319.5 672.6,310.6 676.7,311.9 676.8,312.7 676.0,313.4 674.2,311.5 675.8,308.4 666.7,317.2 672.6,312.8 669.6,316.3 674.5,312.1 675.7,316.0 670.1,316.4 670.8,315.8 671.2,311.7 676.1,311.6 669.4,318.5 676.3,309.5 672.4,314.0 673.7,311.0"/>
<path d="M527.8,349 L680.4,322.6" stroke="#b4b4b4" stroke-width="2.3" fill="none"/>
<path d="M528.2,267.3 V414.6" stroke="#333" stroke-width="1.5" fill="none"/>
<path d="M527.5,413.9 H681" stroke="#333" stroke-width="1.5" fill="none"/>
<path d="M525.4,389.4 H528.2" stroke="#333" stroke-width="1"/>
<text x="522.5" y="393.2" font-size="10.8" text-anchor="end" fill="#1a1a1a" stroke="#1a1a1a">100</text>
<path d="M525.4,340.9 H528.2" stroke="#333" stroke-width="1"/>
<text x="522.5" y="344.7" font-size="10.8" text-anchor="end" fill="#1a1a1a" stroke="#1a1a1a">200</text>
<path d="M525.4,292.4 H528.2" stroke="#333" stroke-width="1"/>
<text x="522.5" y="296.2" font-size="10.8" text-anchor="end" fill="#1a1a1a" stroke="#1a1a1a">300</text>
<path d="M566.3,413.9 V416.4" stroke="#333" stroke-width="1"/>
<path d="M642.3,413.9 V416.4" stroke="#333" stroke-width="1"/>
<path d="M528.3,413.9 V416.4" stroke="#333" stroke-width="1"/>
<text x="528.3" y="430.3" font-size="10.4" text-anchor="middle" fill="#1a1a1a" stroke="#1a1a1a">0</text>
<path d="M604.3,413.9 V416.4" stroke="#333" stroke-width="1"/>
<text x="604.3" y="430.3" font-size="10.4" text-anchor="middle" fill="#1a1a1a" stroke="#1a1a1a">0.5</text>
<path d="M680.3,413.9 V416.4" stroke="#333" stroke-width="1"/>
<text x="680.3" y="430.3" font-size="10.4" text-anchor="middle" fill="#1a1a1a" stroke="#1a1a1a">1</text>
<text x="604.2" y="444.8" font-size="12.5" text-anchor="middle" fill="#1a1a1a" stroke="#1a1a1a" style='font-family:"Liberation Serif", serif;stroke-width:0.05px'>Ω</text>
<path d="M595,435 L592.8,441.3 L595,447.6 M613.6,435 L615.8,441.3 L613.6,447.6" stroke="#333" stroke-width="0.8" fill="none"/>
<text x="0" y="0" font-size="12" text-anchor="middle" fill="#1a1a1a" stroke="#1a1a1a" transform="translate(500.4,339.7) rotate(-90)">RT (msec)</text>
<rect x="530.4" y="268.2" width="65.6" height="28.8" fill="#fff" stroke="#9a9a9a" stroke-width="0.9"/>
<circle cx="539.1" cy="275.7" r="1.7" fill="none" stroke="#111" stroke-width="0.9"/>
<path d="M536.9,289.5 h4.4 m-2.2,-2.2 v4.4" stroke="#111" stroke-width="1" fill="none"/>
<text x="552.3" y="279.4" font-size="10.3" fill="#1a1a1a" stroke="#1a1a1a">What</text>
<text x="552.3" y="293.1" font-size="10.3" fill="#1a1a1a" stroke="#1a1a1a">Where</text>
<text x="680.8" y="279.7" font-size="11" text-anchor="end" fill="#1a1a1a" stroke="#1a1a1a"><tspan font-style="italic">r</tspan> = 0.414</text>
<text x="680.8" y="293" font-size="11" text-anchor="end" fill="#1a1a1a" stroke="#1a1a1a"><tspan font-style="italic">p</tspan> = 3.78e-245</text>
<text x="539.2" y="410.5" font-size="10.25" font-style="italic" fill="#1a1a1a" stroke="#1a1a1a">action-based</text>
<text x="622.4" y="410.5" font-size="10.25" font-style="italic" fill="#1a1a1a" stroke="#1a1a1a">stim-based</text>
<path d="M538,407.2 H529.6 M532,405.2 L529.4,407.2 L532,409.2 M676,407.2 H684.4 M682,405.2 L684.6,407.2 L682,409.2" stroke="#1a1a1a" stroke-width="0.7" fill="none"/>
</g>
</svg></body></html>
